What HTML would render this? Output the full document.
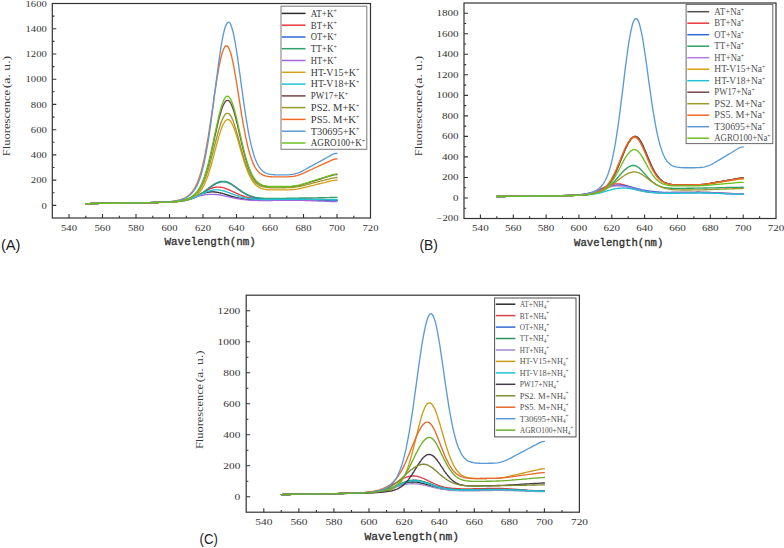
<!DOCTYPE html>
<html><head><meta charset="utf-8"><title>Fluorescence spectra</title>
<style>
html,body{margin:0;padding:0;background:#fff;}
body{width:784px;height:548px;overflow:hidden;font-family:"Liberation Serif",serif;}
svg{display:block;}
.sf{font-family:"Liberation Serif",serif;}
.mo{font-family:"Liberation Mono",monospace;}
.ss{font-family:"Liberation Sans",sans-serif;}
</style></head><body>
<svg width="784" height="548" viewBox="0 0 784 548">
<rect width="784" height="548" fill="#fff"/>
<g fill="none" stroke-width="1.35" stroke-linejoin="round" stroke-linecap="round">
<polyline stroke="#2b2b2b" points="85.8,203.6 89.1,203.6 92.5,203.5 95.8,203.5 99.2,203.4 102.5,203.4 105.9,203.3 109.2,203.3 112.6,203.2 115.9,203.2 119.3,203.1 122.6,203.1 126,203 129.3,203 132.7,202.9 136,202.9 139.4,202.8 142.7,202.7 146.1,202.7 149.4,202.6 152.8,202.5 156.1,202.5 159.5,202.4 162.8,202.2 166.2,202.1 169.5,201.9 170.4,201.9 171.2,201.8 172,201.8 172.9,201.7 173.7,201.6 174.6,201.6 175.4,201.5 176.2,201.4 177.1,201.3 177.9,201.2 178.7,201.1 179.6,201 180.4,200.8 181.3,200.7 182.1,200.5 182.9,200.4 183.8,200.2 184.6,200 185.4,199.8 186.3,199.6 187.1,199.3 188,199.1 188.8,198.8 189.6,198.6 190.5,198.3 191.3,198 192.1,197.7 193,197.4 193.8,197 194.7,196.7 195.5,196.4 196.3,196 197.2,195.7 198,195.3 198.8,195 199.7,194.7 200.5,194.4 201.4,194 202.2,193.7 203,193.5 203.9,193.2 204.7,193 205.5,192.7 206.4,192.5 207.2,192.4 208.1,192.2 208.9,192.1 209.7,192 210.6,191.9 211.4,191.9 212.2,191.9 213.1,191.9 213.9,191.9 214.7,192 215.6,192.1 216.4,192.2 217.3,192.3 218.1,192.4 218.9,192.6 219.8,192.8 220.6,193 221.4,193.2 222.3,193.4 223.1,193.7 224,193.9 224.8,194.2 225.6,194.4 226.5,194.7 227.3,195 228.1,195.2 229,195.5 229.8,195.8 230.7,196 231.5,196.3 232.3,196.5 233.2,196.8 234,197 234.8,197.2 235.7,197.4 236.5,197.6 237.4,197.8 238.2,198 239,198.2 239.9,198.4 240.7,198.5 241.5,198.7 242.4,198.8 243.2,198.9 244.1,199.1 244.9,199.2 245.7,199.3 246.6,199.3 247.4,199.4 248.2,199.5 249.1,199.6 249.9,199.6 250.8,199.7 251.6,199.7 252.4,199.8 253.3,199.8 254.1,199.8 254.9,199.8 255.8,199.9 256.6,199.9 257.5,199.9 258.3,199.9 259.1,199.9 260,199.9 260.8,199.9 261.6,199.9 262.5,199.9 263.3,199.9 264.2,199.9 265,199.9 265.8,199.9 266.7,199.9 267.5,199.9 268.3,199.9 269.2,199.9 270,199.9 270.9,199.9 271.7,199.8 272.5,199.8 273.4,199.8 274.2,199.8 275,199.8 275.9,199.8 276.7,199.8 277.6,199.8 278.4,199.8 279.2,199.7 280.1,199.7 280.9,199.7 281.7,199.7 282.6,199.7 283.4,199.7 284.3,199.7 285.1,199.7 285.9,199.6 286.8,199.6 288.4,199.6 290.1,199.6 291.8,199.6 293.5,199.6 295.1,199.6 296.8,199.6 298.5,199.6 300.2,199.6 301.8,199.6 303.5,199.7 305.2,199.7 306.9,199.7 308.5,199.8 310.2,199.8 311.9,199.9 313.6,199.9 315.2,199.9 316.9,200 318.6,200 320.3,200 321.9,200.1 323.6,200.1 325.3,200.2 327,200.2 328.6,200.2 330.3,200.3 332,200.3 333.7,200.3 335.3,200.3 337,200.3"/>
<polyline stroke="#e8383d" points="85.8,203.6 89.1,203.6 92.5,203.5 95.8,203.5 99.2,203.4 102.5,203.4 105.9,203.3 109.2,203.3 112.6,203.2 115.9,203.2 119.3,203.1 122.6,203.1 126,203 129.3,203 132.7,202.9 136,202.9 139.4,202.8 142.7,202.7 146.1,202.7 149.4,202.6 152.8,202.6 156.1,202.5 159.5,202.4 162.8,202.3 166.2,202.2 169.5,202 170.4,202 171.2,201.9 172,201.9 172.9,201.8 173.7,201.8 174.6,201.7 175.4,201.6 176.2,201.6 177.1,201.5 177.9,201.4 178.7,201.3 179.6,201.2 180.4,201.1 181.3,201 182.1,200.9 182.9,200.7 183.8,200.6 184.6,200.4 185.4,200.2 186.3,200 187.1,199.8 188,199.6 188.8,199.4 189.6,199.1 190.5,198.8 191.3,198.5 192.1,198.2 193,197.9 193.8,197.5 194.7,197.1 195.5,196.7 196.3,196.3 197.2,195.9 198,195.4 198.8,195 199.7,194.5 200.5,194 201.4,193.5 202.2,193 203,192.5 203.9,192 204.7,191.5 205.5,191.1 206.4,190.6 207.2,190.1 208.1,189.7 208.9,189.3 209.7,188.9 210.6,188.6 211.4,188.3 212.2,188 213.1,187.7 213.9,187.5 214.7,187.4 215.6,187.2 216.4,187.2 217.3,187.1 218.1,187.1 218.9,187.1 219.8,187.2 220.6,187.2 221.4,187.4 222.3,187.5 223.1,187.7 224,187.9 224.8,188.2 225.6,188.5 226.5,188.8 227.3,189.1 228.1,189.5 229,189.8 229.8,190.2 230.7,190.6 231.5,191 232.3,191.4 233.2,191.8 234,192.2 234.8,192.5 235.7,192.9 236.5,193.3 237.4,193.7 238.2,194.1 239,194.4 239.9,194.8 240.7,195.1 241.5,195.4 242.4,195.7 243.2,196 244.1,196.3 244.9,196.6 245.7,196.8 246.6,197 247.4,197.3 248.2,197.5 249.1,197.6 249.9,197.8 250.8,198 251.6,198.1 252.4,198.2 253.3,198.4 254.1,198.5 254.9,198.6 255.8,198.7 256.6,198.7 257.5,198.8 258.3,198.9 259.1,198.9 260,199 260.8,199 261.6,199.1 262.5,199.1 263.3,199.1 264.2,199.1 265,199.1 265.8,199.2 266.7,199.2 267.5,199.2 268.3,199.2 269.2,199.2 270,199.2 270.9,199.2 271.7,199.2 272.5,199.2 273.4,199.2 274.2,199.2 275,199.2 275.9,199.1 276.7,199.1 277.6,199.1 278.4,199.1 279.2,199.1 280.1,199.1 280.9,199.1 281.7,199.1 282.6,199.1 283.4,199.1 284.3,199 285.1,199 285.9,199 286.8,199 288.4,199 290.1,199 291.8,198.9 293.5,198.9 295.1,198.9 296.8,198.9 298.5,199 300.2,199 301.8,199 303.5,199 305.2,199.1 306.9,199.1 308.5,199.2 310.2,199.2 311.9,199.2 313.6,199.3 315.2,199.3 316.9,199.3 318.6,199.4 320.3,199.4 321.9,199.5 323.6,199.5 325.3,199.5 327,199.6 328.6,199.6 330.3,199.6 332,199.7 333.7,199.7 335.3,199.7 337,199.7"/>
<polyline stroke="#2f6bd6" points="85.8,203.6 89.1,203.6 92.5,203.5 95.8,203.5 99.2,203.4 102.5,203.4 105.9,203.3 109.2,203.3 112.6,203.2 115.9,203.2 119.3,203.1 122.6,203.1 126,203 129.3,203 132.7,202.9 136,202.9 139.4,202.8 142.7,202.7 146.1,202.7 149.4,202.6 152.8,202.5 156.1,202.5 159.5,202.4 162.8,202.3 166.2,202.2 169.5,202 170.4,202 171.2,201.9 172,201.9 172.9,201.8 173.7,201.8 174.6,201.7 175.4,201.6 176.2,201.6 177.1,201.5 177.9,201.4 178.7,201.4 179.6,201.3 180.4,201.2 181.3,201.1 182.1,201 182.9,200.8 183.8,200.7 184.6,200.6 185.4,200.4 186.3,200.2 187.1,200.1 188,199.9 188.8,199.7 189.6,199.4 190.5,199.2 191.3,198.9 192.1,198.6 193,198.3 193.8,198 194.7,197.6 195.5,197.2 196.3,196.8 197.2,196.4 198,195.9 198.8,195.5 199.7,195 200.5,194.4 201.4,193.9 202.2,193.3 203,192.8 203.9,192.2 204.7,191.5 205.5,190.9 206.4,190.3 207.2,189.7 208.1,189 208.9,188.4 209.7,187.8 210.6,187.1 211.4,186.5 212.2,186 213.1,185.4 213.9,184.9 214.7,184.4 215.6,183.9 216.4,183.5 217.3,183.1 218.1,182.8 218.9,182.5 219.8,182.2 220.6,182 221.4,181.9 222.3,181.8 223.1,181.8 224,181.8 224.8,181.9 225.6,182 226.5,182.2 227.3,182.5 228.1,182.8 229,183.2 229.8,183.6 230.7,184 231.5,184.5 232.3,185 233.2,185.6 234,186.2 234.8,186.8 235.7,187.4 236.5,188 237.4,188.6 238.2,189.2 239,189.8 239.9,190.4 240.7,191 241.5,191.6 242.4,192.2 243.2,192.7 244.1,193.2 244.9,193.7 245.7,194.2 246.6,194.7 247.4,195.1 248.2,195.5 249.1,195.9 249.9,196.2 250.8,196.5 251.6,196.8 252.4,197.1 253.3,197.3 254.1,197.6 254.9,197.8 255.8,198 256.6,198.1 257.5,198.3 258.3,198.4 259.1,198.5 260,198.6 260.8,198.7 261.6,198.8 262.5,198.9 263.3,198.9 264.2,199 265,199 265.8,199.1 266.7,199.1 267.5,199.1 268.3,199.1 269.2,199.1 270,199.1 270.9,199.1 271.7,199.2 272.5,199.2 273.4,199.2 274.2,199.1 275,199.1 275.9,199.1 276.7,199.1 277.6,199.1 278.4,199.1 279.2,199.1 280.1,199.1 280.9,199.1 281.7,199.1 282.6,199.1 283.4,199.1 284.3,199 285.1,199 285.9,199 286.8,199 288.4,199 290.1,199 291.8,198.9 293.5,199 295.1,199 296.8,199 298.5,199 300.2,199.1 301.8,199.1 303.5,199.2 305.2,199.2 306.9,199.3 308.5,199.4 310.2,199.4 311.9,199.5 313.6,199.6 315.2,199.6 316.9,199.7 318.6,199.8 320.3,199.8 321.9,199.9 323.6,199.9 325.3,200 327,200.1 328.6,200.1 330.3,200.2 332,200.3 333.7,200.3 335.3,200.3 337,200.3"/>
<polyline stroke="#35a070" points="85.8,203.6 89.1,203.6 92.5,203.5 95.8,203.5 99.2,203.4 102.5,203.4 105.9,203.3 109.2,203.3 112.6,203.2 115.9,203.2 119.3,203.1 122.6,203.1 126,203 129.3,203 132.7,202.9 136,202.9 139.4,202.8 142.7,202.7 146.1,202.7 149.4,202.6 152.8,202.5 156.1,202.5 159.5,202.4 162.8,202.3 166.2,202.1 169.5,202 170.4,201.9 171.2,201.9 172,201.8 172.9,201.8 173.7,201.7 174.6,201.7 175.4,201.6 176.2,201.5 177.1,201.5 177.9,201.4 178.7,201.3 179.6,201.2 180.4,201.1 181.3,201 182.1,200.9 182.9,200.7 183.8,200.6 184.6,200.5 185.4,200.3 186.3,200.1 187.1,199.9 188,199.7 188.8,199.5 189.6,199.3 190.5,199 191.3,198.7 192.1,198.4 193,198.1 193.8,197.7 194.7,197.3 195.5,196.9 196.3,196.5 197.2,196.1 198,195.6 198.8,195.1 199.7,194.6 200.5,194 201.4,193.5 202.2,192.9 203,192.3 203.9,191.7 204.7,191.1 205.5,190.4 206.4,189.8 207.2,189.1 208.1,188.5 208.9,187.9 209.7,187.2 210.6,186.6 211.4,186 212.2,185.4 213.1,184.9 213.9,184.4 214.7,183.9 215.6,183.4 216.4,183 217.3,182.6 218.1,182.3 218.9,182 219.8,181.7 220.6,181.5 221.4,181.4 222.3,181.3 223.1,181.3 224,181.3 224.8,181.4 225.6,181.5 226.5,181.8 227.3,182 228.1,182.3 229,182.7 229.8,183.1 230.7,183.6 231.5,184.1 232.3,184.6 233.2,185.2 234,185.7 234.8,186.3 235.7,187 236.5,187.6 237.4,188.2 238.2,188.8 239,189.4 239.9,190 240.7,190.6 241.5,191.2 242.4,191.7 243.2,192.3 244.1,192.8 244.9,193.3 245.7,193.7 246.6,194.2 247.4,194.6 248.2,195 249.1,195.3 249.9,195.6 250.8,196 251.6,196.2 252.4,196.5 253.3,196.7 254.1,196.9 254.9,197.1 255.8,197.3 256.6,197.5 257.5,197.6 258.3,197.7 259.1,197.8 260,197.9 260.8,198 261.6,198.1 262.5,198.2 263.3,198.2 264.2,198.3 265,198.3 265.8,198.3 266.7,198.3 267.5,198.4 268.3,198.4 269.2,198.4 270,198.4 270.9,198.4 271.7,198.4 272.5,198.4 273.4,198.4 274.2,198.4 275,198.4 275.9,198.4 276.7,198.4 277.6,198.4 278.4,198.4 279.2,198.3 280.1,198.3 280.9,198.3 281.7,198.3 282.6,198.3 283.4,198.3 284.3,198.3 285.1,198.3 285.9,198.3 286.8,198.2 288.4,198.2 290.1,198.2 291.8,198.2 293.5,198.1 295.1,198.1 296.8,198.1 298.5,198.1 300.2,198 301.8,198 303.5,198 305.2,198 306.9,197.9 308.5,197.9 310.2,197.9 311.9,197.8 313.6,197.8 315.2,197.8 316.9,197.8 318.6,197.7 320.3,197.7 321.9,197.7 323.6,197.7 325.3,197.6 327,197.6 328.6,197.6 330.3,197.5 332,197.5 333.7,197.5 335.3,197.5 337,197.4"/>
<polyline stroke="#a466e0" points="85.8,203.6 89.1,203.6 92.5,203.5 95.8,203.5 99.2,203.4 102.5,203.4 105.9,203.3 109.2,203.3 112.6,203.2 115.9,203.2 119.3,203.1 122.6,203.1 126,203 129.3,203 132.7,202.9 136,202.8 139.4,202.8 142.7,202.7 146.1,202.6 149.4,202.6 152.8,202.5 156.1,202.4 159.5,202.3 162.8,202.2 166.2,202 169.5,201.8 170.4,201.7 171.2,201.7 172,201.6 172.9,201.5 173.7,201.5 174.6,201.4 175.4,201.3 176.2,201.2 177.1,201.1 177.9,201 178.7,200.9 179.6,200.7 180.4,200.6 181.3,200.5 182.1,200.3 182.9,200.2 183.8,200 184.6,199.8 185.4,199.7 186.3,199.5 187.1,199.3 188,199.1 188.8,198.9 189.6,198.6 190.5,198.4 191.3,198.2 192.1,198 193,197.7 193.8,197.5 194.7,197.2 195.5,197 196.3,196.8 197.2,196.5 198,196.3 198.8,196.1 199.7,195.9 200.5,195.7 201.4,195.5 202.2,195.3 203,195.1 203.9,195 204.7,194.8 205.5,194.7 206.4,194.6 207.2,194.5 208.1,194.4 208.9,194.3 209.7,194.3 210.6,194.3 211.4,194.3 212.2,194.3 213.1,194.3 213.9,194.3 214.7,194.4 215.6,194.5 216.4,194.5 217.3,194.6 218.1,194.7 218.9,194.9 219.8,195 220.6,195.1 221.4,195.3 222.3,195.4 223.1,195.6 224,195.8 224.8,196 225.6,196.1 226.5,196.3 227.3,196.5 228.1,196.7 229,196.9 229.8,197.1 230.7,197.3 231.5,197.4 232.3,197.6 233.2,197.8 234,198 234.8,198.1 235.7,198.3 236.5,198.5 237.4,198.6 238.2,198.8 239,198.9 239.9,199 240.7,199.2 241.5,199.3 242.4,199.4 243.2,199.5 244.1,199.6 244.9,199.7 245.7,199.8 246.6,199.9 247.4,199.9 248.2,200 249.1,200.1 249.9,200.1 250.8,200.2 251.6,200.2 252.4,200.3 253.3,200.3 254.1,200.4 254.9,200.4 255.8,200.4 256.6,200.4 257.5,200.4 258.3,200.5 259.1,200.5 260,200.5 260.8,200.5 261.6,200.5 262.5,200.5 263.3,200.5 264.2,200.5 265,200.5 265.8,200.5 266.7,200.5 267.5,200.5 268.3,200.5 269.2,200.5 270,200.5 270.9,200.5 271.7,200.5 272.5,200.5 273.4,200.4 274.2,200.4 275,200.4 275.9,200.4 276.7,200.4 277.6,200.4 278.4,200.4 279.2,200.4 280.1,200.4 280.9,200.3 281.7,200.3 282.6,200.3 283.4,200.3 284.3,200.3 285.1,200.3 285.9,200.3 286.8,200.3 288.4,200.2 290.1,200.2 291.8,200.2 293.5,200.2 295.1,200.2 296.8,200.2 298.5,200.3 300.2,200.3 301.8,200.4 303.5,200.4 305.2,200.5 306.9,200.6 308.5,200.6 310.2,200.7 311.9,200.8 313.6,200.8 315.2,200.9 316.9,200.9 318.6,201 320.3,201.1 321.9,201.1 323.6,201.2 325.3,201.3 327,201.3 328.6,201.4 330.3,201.5 332,201.5 333.7,201.6 335.3,201.6 337,201.6"/>
<polyline stroke="#d4a017" points="85.8,203.6 89.1,203.6 92.5,203.5 95.8,203.5 99.2,203.4 102.5,203.4 105.9,203.3 109.2,203.3 112.6,203.2 115.9,203.2 119.3,203.1 122.6,203.1 126,203 129.3,203 132.7,202.9 136,202.9 139.4,202.8 142.7,202.8 146.1,202.7 149.4,202.7 152.8,202.6 156.1,202.5 159.5,202.5 162.8,202.4 166.2,202.3 169.5,202.2 170.4,202.1 171.2,202.1 172,202 172.9,202 173.7,201.9 174.6,201.9 175.4,201.8 176.2,201.7 177.1,201.7 177.9,201.6 178.7,201.5 179.6,201.4 180.4,201.3 181.3,201.2 182.1,201.1 182.9,200.9 183.8,200.8 184.6,200.6 185.4,200.5 186.3,200.3 187.1,200.1 188,199.9 188.8,199.6 189.6,199.3 190.5,199 191.3,198.7 192.1,198.3 193,197.9 193.8,197.4 194.7,196.9 195.5,196.3 196.3,195.7 197.2,195 198,194.2 198.8,193.3 199.7,192.3 200.5,191.2 201.4,189.9 202.2,188.6 203,187.1 203.9,185.5 204.7,183.7 205.5,181.8 206.4,179.8 207.2,177.6 208.1,175.2 208.9,172.7 209.7,170 210.6,167.2 211.4,164.3 212.2,161.3 213.1,158.2 213.9,155.1 214.7,151.9 215.6,148.7 216.4,145.5 217.3,142.4 218.1,139.4 218.9,136.4 219.8,133.7 220.6,131.1 221.4,128.7 222.3,126.5 223.1,124.6 224,123 224.8,121.7 225.6,120.7 226.5,120 227.3,119.6 228.1,119.6 229,119.9 229.8,120.5 230.7,121.5 231.5,122.7 232.3,124.3 233.2,126.1 234,128.2 234.8,130.5 235.7,132.9 236.5,135.6 237.4,138.3 238.2,141.2 239,144.1 239.9,147 240.7,150 241.5,152.9 242.4,155.7 243.2,158.5 244.1,161.2 244.9,163.8 245.7,166.2 246.6,168.5 247.4,170.7 248.2,172.8 249.1,174.7 249.9,176.4 250.8,178 251.6,179.5 252.4,180.8 253.3,182 254.1,183.1 254.9,184 255.8,184.9 256.6,185.6 257.5,186.3 258.3,186.9 259.1,187.4 260,187.8 260.8,188.2 261.6,188.5 262.5,188.8 263.3,189 264.2,189.2 265,189.3 265.8,189.5 266.7,189.6 267.5,189.7 268.3,189.7 269.2,189.8 270,189.8 270.9,189.9 271.7,189.9 272.5,189.9 273.4,189.9 274.2,189.9 275,189.9 275.9,189.9 276.7,189.9 277.6,189.9 278.4,189.9 279.2,189.9 280.1,189.9 280.9,189.9 281.7,189.9 282.6,189.9 283.4,189.8 284.3,189.8 285.1,189.8 285.9,189.8 286.8,189.8 288.4,189.8 290.1,189.7 291.8,189.6 293.5,189.5 295.1,189.3 296.8,189.1 298.5,188.8 300.2,188.5 301.8,188.1 303.5,187.7 305.2,187.3 306.9,186.9 308.5,186.5 310.2,186.1 311.9,185.7 313.6,185.3 315.2,184.8 316.9,184.4 318.6,184 320.3,183.6 321.9,183.2 323.6,182.8 325.3,182.4 327,181.9 328.6,181.5 330.3,181.1 332,180.7 333.7,180.3 335.3,180.1 337,180"/>
<polyline stroke="#1ec3d3" points="85.8,203.6 89.1,203.6 92.5,203.5 95.8,203.5 99.2,203.4 102.5,203.4 105.9,203.3 109.2,203.3 112.6,203.2 115.9,203.2 119.3,203.1 122.6,203.1 126,203 129.3,203 132.7,202.9 136,202.9 139.4,202.8 142.7,202.7 146.1,202.7 149.4,202.6 152.8,202.6 156.1,202.5 159.5,202.4 162.8,202.3 166.2,202.2 169.5,202 170.4,202 171.2,201.9 172,201.9 172.9,201.8 173.7,201.8 174.6,201.7 175.4,201.6 176.2,201.6 177.1,201.5 177.9,201.4 178.7,201.3 179.6,201.2 180.4,201.1 181.3,201 182.1,200.9 182.9,200.7 183.8,200.6 184.6,200.4 185.4,200.3 186.3,200.1 187.1,199.9 188,199.7 188.8,199.4 189.6,199.2 190.5,198.9 191.3,198.6 192.1,198.3 193,198 193.8,197.7 194.7,197.4 195.5,197 196.3,196.6 197.2,196.3 198,195.9 198.8,195.5 199.7,195.1 200.5,194.7 201.4,194.3 202.2,193.9 203,193.5 203.9,193.1 204.7,192.7 205.5,192.3 206.4,192 207.2,191.7 208.1,191.4 208.9,191.1 209.7,190.8 210.6,190.6 211.4,190.4 212.2,190.2 213.1,190.1 213.9,190 214.7,189.9 215.6,189.9 216.4,189.9 217.3,189.9 218.1,189.9 218.9,190 219.8,190.1 220.6,190.2 221.4,190.4 222.3,190.6 223.1,190.8 224,191 224.8,191.2 225.6,191.5 226.5,191.8 227.3,192.1 228.1,192.4 229,192.7 229.8,193 230.7,193.3 231.5,193.6 232.3,193.9 233.2,194.3 234,194.6 234.8,194.9 235.7,195.2 236.5,195.5 237.4,195.8 238.2,196 239,196.3 239.9,196.6 240.7,196.8 241.5,197 242.4,197.3 243.2,197.5 244.1,197.7 244.9,197.8 245.7,198 246.6,198.2 247.4,198.3 248.2,198.4 249.1,198.6 249.9,198.7 250.8,198.8 251.6,198.9 252.4,199 253.3,199 254.1,199.1 254.9,199.2 255.8,199.2 256.6,199.3 257.5,199.3 258.3,199.3 259.1,199.4 260,199.4 260.8,199.4 261.6,199.4 262.5,199.4 263.3,199.5 264.2,199.5 265,199.5 265.8,199.5 266.7,199.5 267.5,199.5 268.3,199.5 269.2,199.5 270,199.5 270.9,199.5 271.7,199.5 272.5,199.4 273.4,199.4 274.2,199.4 275,199.4 275.9,199.4 276.7,199.4 277.6,199.4 278.4,199.4 279.2,199.4 280.1,199.3 280.9,199.3 281.7,199.3 282.6,199.3 283.4,199.3 284.3,199.3 285.1,199.3 285.9,199.3 286.8,199.3 288.4,199.2 290.1,199.2 291.8,199.2 293.5,199.2 295.1,199.2 296.8,199.2 298.5,199.2 300.2,199.2 301.8,199.2 303.5,199.2 305.2,199.3 306.9,199.3 308.5,199.3 310.2,199.4 311.9,199.4 313.6,199.4 315.2,199.4 316.9,199.5 318.6,199.5 320.3,199.5 321.9,199.5 323.6,199.6 325.3,199.6 327,199.6 328.6,199.6 330.3,199.7 332,199.7 333.7,199.7 335.3,199.7 337,199.7"/>
<polyline stroke="#784444" points="85.8,203.6 89.1,203.6 92.5,203.5 95.8,203.5 99.2,203.4 102.5,203.4 105.9,203.3 109.2,203.3 112.6,203.2 115.9,203.2 119.3,203.1 122.6,203.1 126,203 129.3,203 132.7,202.9 136,202.9 139.4,202.8 142.7,202.8 146.1,202.7 149.4,202.6 152.8,202.6 156.1,202.5 159.5,202.4 162.8,202.3 166.2,202.2 169.5,202 170.4,202 171.2,201.9 172,201.9 172.9,201.8 173.7,201.7 174.6,201.6 175.4,201.5 176.2,201.5 177.1,201.4 177.9,201.2 178.7,201.1 179.6,201 180.4,200.9 181.3,200.7 182.1,200.5 182.9,200.3 183.8,200.1 184.6,199.9 185.4,199.7 186.3,199.4 187.1,199.1 188,198.8 188.8,198.5 189.6,198.1 190.5,197.6 191.3,197.2 192.1,196.6 193,196 193.8,195.4 194.7,194.7 195.5,193.8 196.3,192.9 197.2,191.9 198,190.8 198.8,189.6 199.7,188.2 200.5,186.7 201.4,185 202.2,183.2 203,181.3 203.9,179.1 204.7,176.8 205.5,174.3 206.4,171.6 207.2,168.8 208.1,165.8 208.9,162.6 209.7,159.2 210.6,155.8 211.4,152.2 212.2,148.5 213.1,144.7 213.9,140.9 214.7,137.1 215.6,133.3 216.4,129.5 217.3,125.9 218.1,122.3 218.9,118.9 219.8,115.7 220.6,112.8 221.4,110.1 222.3,107.6 223.1,105.5 224,103.7 224.8,102.3 225.6,101.2 226.5,100.6 227.3,100.3 228.1,100.4 229,100.9 229.8,101.8 230.7,103.2 231.5,104.8 232.3,106.9 233.2,109.3 234,111.9 234.8,114.8 235.7,118 236.5,121.3 237.4,124.7 238.2,128.3 239,131.9 239.9,135.5 240.7,139.1 241.5,142.7 242.4,146.1 243.2,149.5 244.1,152.8 244.9,155.9 245.7,158.8 246.6,161.6 247.4,164.3 248.2,166.7 249.1,169 249.9,171 250.8,172.9 251.6,174.7 252.4,176.2 253.3,177.7 254.1,178.9 254.9,180.1 255.8,181 256.6,181.9 257.5,182.7 258.3,183.4 259.1,184 260,184.5 260.8,184.9 261.6,185.2 262.5,185.6 263.3,185.8 264.2,186 265,186.2 265.8,186.4 266.7,186.5 267.5,186.6 268.3,186.7 269.2,186.7 270,186.8 270.9,186.8 271.7,186.8 272.5,186.9 273.4,186.9 274.2,186.9 275,186.9 275.9,186.9 276.7,186.9 277.6,186.9 278.4,186.9 279.2,186.9 280.1,186.9 280.9,186.8 281.7,186.8 282.6,186.8 283.4,186.8 284.3,186.8 285.1,186.8 285.9,186.8 286.8,186.8 288.4,186.7 290.1,186.7 291.8,186.6 293.5,186.4 295.1,186.2 296.8,185.9 298.5,185.6 300.2,185.2 301.8,184.7 303.5,184.2 305.2,183.7 306.9,183.2 308.5,182.6 310.2,182.1 311.9,181.6 313.6,181.1 315.2,180.5 316.9,180 318.6,179.5 320.3,179 321.9,178.5 323.6,177.9 325.3,177.4 327,176.9 328.6,176.4 330.3,175.8 332,175.3 333.7,174.9 335.3,174.6 337,174.5"/>
<polyline stroke="#9a9a2a" points="85.8,203.6 89.1,203.6 92.5,203.5 95.8,203.5 99.2,203.4 102.5,203.4 105.9,203.3 109.2,203.3 112.6,203.2 115.9,203.2 119.3,203.1 122.6,203.1 126,203 129.3,203 132.7,202.9 136,202.9 139.4,202.8 142.7,202.8 146.1,202.7 149.4,202.6 152.8,202.6 156.1,202.5 159.5,202.4 162.8,202.3 166.2,202.2 169.5,202.1 170.4,202 171.2,202 172,201.9 172.9,201.8 173.7,201.8 174.6,201.7 175.4,201.6 176.2,201.5 177.1,201.5 177.9,201.4 178.7,201.3 179.6,201.1 180.4,201 181.3,200.9 182.1,200.7 182.9,200.6 183.8,200.4 184.6,200.2 185.4,200 186.3,199.7 187.1,199.5 188,199.2 188.8,198.9 189.6,198.5 190.5,198.2 191.3,197.7 192.1,197.3 193,196.7 193.8,196.2 194.7,195.5 195.5,194.8 196.3,194 197.2,193.1 198,192.1 198.8,191 199.7,189.8 200.5,188.5 201.4,187 202.2,185.5 203,183.7 203.9,181.8 204.7,179.8 205.5,177.6 206.4,175.3 207.2,172.8 208.1,170.1 208.9,167.3 209.7,164.4 210.6,161.4 211.4,158.2 212.2,155 213.1,151.7 213.9,148.4 214.7,145.1 215.6,141.8 216.4,138.6 217.3,135.4 218.1,132.3 218.9,129.4 219.8,126.6 220.6,124 221.4,121.7 222.3,119.6 223.1,117.8 224,116.2 224.8,115 225.6,114.1 226.5,113.5 227.3,113.3 228.1,113.4 229,113.8 229.8,114.7 230.7,115.8 231.5,117.3 232.3,119 233.2,121.1 234,123.4 234.8,126 235.7,128.7 236.5,131.6 237.4,134.5 238.2,137.6 239,140.7 239.9,143.9 240.7,147 241.5,150 242.4,153 243.2,155.9 244.1,158.7 244.9,161.4 245.7,163.9 246.6,166.3 247.4,168.6 248.2,170.7 249.1,172.6 249.9,174.4 250.8,176 251.6,177.5 252.4,178.8 253.3,180 254.1,181.1 254.9,182 255.8,182.9 256.6,183.6 257.5,184.3 258.3,184.8 259.1,185.3 260,185.8 260.8,186.1 261.6,186.4 262.5,186.7 263.3,186.9 264.2,187.1 265,187.2 265.8,187.4 266.7,187.5 267.5,187.5 268.3,187.6 269.2,187.7 270,187.7 270.9,187.7 271.7,187.7 272.5,187.8 273.4,187.8 274.2,187.8 275,187.8 275.9,187.8 276.7,187.8 277.6,187.8 278.4,187.8 279.2,187.7 280.1,187.7 280.9,187.7 281.7,187.7 282.6,187.7 283.4,187.7 284.3,187.7 285.1,187.7 285.9,187.7 286.8,187.6 288.4,187.6 290.1,187.6 291.8,187.5 293.5,187.3 295.1,187.1 296.8,186.9 298.5,186.6 300.2,186.3 301.8,185.9 303.5,185.5 305.2,185.1 306.9,184.7 308.5,184.2 310.2,183.8 311.9,183.4 313.6,182.9 315.2,182.5 316.9,182.1 318.6,181.6 320.3,181.2 321.9,180.8 323.6,180.4 325.3,179.9 327,179.5 328.6,179.1 330.3,178.6 332,178.2 333.7,177.8 335.3,177.6 337,177.5"/>
<polyline stroke="#f26a26" points="85.8,203.6 89.1,203.6 92.5,203.5 95.8,203.5 99.2,203.4 102.5,203.4 105.9,203.3 109.2,203.3 112.6,203.2 115.9,203.2 119.3,203.1 122.6,203.1 126,203 129.3,203 132.7,202.9 136,202.9 139.4,202.8 142.7,202.8 146.1,202.7 149.4,202.6 152.8,202.6 156.1,202.5 159.5,202.4 162.8,202.2 166.2,202 169.5,201.7 170.4,201.6 171.2,201.5 172,201.4 172.9,201.3 173.7,201.1 174.6,201 175.4,200.9 176.2,200.7 177.1,200.5 177.9,200.3 178.7,200.1 179.6,199.9 180.4,199.6 181.3,199.3 182.1,199 182.9,198.7 183.8,198.4 184.6,198 185.4,197.5 186.3,197 187.1,196.5 188,195.9 188.8,195.3 189.6,194.5 190.5,193.7 191.3,192.8 192.1,191.8 193,190.7 193.8,189.5 194.7,188.1 195.5,186.6 196.3,184.9 197.2,183.1 198,181 198.8,178.8 199.7,176.3 200.5,173.6 201.4,170.6 202.2,167.4 203,164 203.9,160.2 204.7,156.3 205.5,152 206.4,147.5 207.2,142.7 208.1,137.8 208.9,132.6 209.7,127.2 210.6,121.7 211.4,116 212.2,110.3 213.1,104.6 213.9,98.8 214.7,93.1 215.6,87.6 216.4,82.1 217.3,76.9 218.1,72 218.9,67.4 219.8,63.1 220.6,59.2 221.4,55.7 222.3,52.7 223.1,50.2 224,48.3 224.8,46.9 225.6,46 226.5,45.8 227.3,46.1 228.1,46.9 229,48.4 229.8,50.4 230.7,53 231.5,56.1 232.3,59.6 233.2,63.6 234,67.9 234.8,72.5 235.7,77.4 236.5,82.5 237.4,87.7 238.2,93.1 239,98.4 239.9,103.7 240.7,109 241.5,114.1 242.4,119.1 243.2,123.9 244.1,128.6 244.9,133 245.7,137.2 246.6,141.1 247.4,144.8 248.2,148.2 249.1,151.4 249.9,154.3 250.8,157 251.6,159.4 252.4,161.6 253.3,163.6 254.1,165.4 254.9,167 255.8,168.4 256.6,169.6 257.5,170.7 258.3,171.7 259.1,172.5 260,173.2 260.8,173.8 261.6,174.4 262.5,174.8 263.3,175.2 264.2,175.5 265,175.8 265.8,176 266.7,176.2 267.5,176.4 268.3,176.5 269.2,176.6 270,176.7 270.9,176.7 271.7,176.8 272.5,176.8 273.4,176.9 274.2,176.9 275,176.9 275.9,176.9 276.7,176.9 277.6,176.9 278.4,176.9 279.2,176.9 280.1,176.9 280.9,176.9 281.7,176.9 282.6,176.9 283.4,176.8 284.3,176.8 285.1,176.8 285.9,176.8 286.8,176.8 288.4,176.8 290.1,176.7 291.8,176.6 293.5,176.3 295.1,176 296.8,175.6 298.5,175.1 300.2,174.5 301.8,173.8 303.5,173.1 305.2,172.3 306.9,171.6 308.5,170.8 310.2,170 311.9,169.3 313.6,168.5 315.2,167.7 316.9,167 318.6,166.2 320.3,165.4 321.9,164.7 323.6,163.9 325.3,163.1 327,162.4 328.6,161.6 330.3,160.8 332,160 333.7,159.4 335.3,159 337,158.8"/>
<polyline stroke="#5b9bd5" points="85.8,203.6 89.1,203.6 92.5,203.5 95.8,203.5 99.2,203.4 102.5,203.4 105.9,203.3 109.2,203.3 112.6,203.2 115.9,203.2 119.3,203.1 122.6,203.1 126,203 129.3,203 132.7,202.9 136,202.9 139.4,202.8 142.7,202.8 146.1,202.7 149.4,202.6 152.8,202.6 156.1,202.5 159.5,202.4 162.8,202.2 166.2,202 169.5,201.8 170.4,201.7 171.2,201.6 172,201.5 172.9,201.4 173.7,201.3 174.6,201.2 175.4,201 176.2,200.9 177.1,200.7 177.9,200.5 178.7,200.3 179.6,200.1 180.4,199.9 181.3,199.6 182.1,199.4 182.9,199.1 183.8,198.7 184.6,198.4 185.4,198 186.3,197.5 187.1,197 188,196.5 188.8,195.9 189.6,195.3 190.5,194.6 191.3,193.8 192.1,192.9 193,191.9 193.8,190.9 194.7,189.7 195.5,188.3 196.3,186.8 197.2,185.2 198,183.3 198.8,181.3 199.7,179.1 200.5,176.6 201.4,173.9 202.2,170.9 203,167.7 203.9,164.1 204.7,160.3 205.5,156.1 206.4,151.7 207.2,147 208.1,141.9 208.9,136.6 209.7,131 210.6,125.1 211.4,119 212.2,112.7 213.1,106.3 213.9,99.7 214.7,93.1 215.6,86.4 216.4,79.8 217.3,73.3 218.1,67 218.9,60.8 219.8,55 220.6,49.5 221.4,44.3 222.3,39.6 223.1,35.4 224,31.6 224.8,28.5 225.6,26 226.5,24.1 227.3,22.8 228.1,22.2 229,22.3 229.8,23 230.7,24.4 231.5,26.5 232.3,29.2 233.2,32.5 234,36.3 234.8,40.7 235.7,45.5 236.5,50.7 237.4,56.3 238.2,62.1 239,68.1 239.9,74.2 240.7,80.4 241.5,86.6 242.4,92.7 243.2,98.8 244.1,104.7 244.9,110.4 245.7,115.9 246.6,121.1 247.4,126.1 248.2,130.8 249.1,135.3 249.9,139.4 250.8,143.3 251.6,146.8 252.4,150 253.3,153 254.1,155.7 254.9,158.2 255.8,160.3 256.6,162.3 257.5,164.1 258.3,165.6 259.1,167 260,168.2 260.8,169.2 261.6,170.1 262.5,170.9 263.3,171.6 264.2,172.1 265,172.6 265.8,173 266.7,173.4 267.5,173.7 268.3,173.9 269.2,174.1 270,174.3 270.9,174.4 271.7,174.5 272.5,174.6 273.4,174.7 274.2,174.7 275,174.8 275.9,174.8 276.7,174.8 277.6,174.8 278.4,174.8 279.2,174.9 280.1,174.9 280.9,174.9 281.7,174.8 282.6,174.8 283.4,174.8 284.3,174.8 285.1,174.8 285.9,174.8 286.8,174.8 288.4,174.8 290.1,174.7 291.8,174.5 293.5,174.2 295.1,173.8 296.8,173.4 298.5,172.8 300.2,172.1 301.8,171.3 303.5,170.4 305.2,169.5 306.9,168.5 308.5,167.6 310.2,166.7 311.9,165.8 313.6,164.9 315.2,163.9 316.9,163 318.6,162.1 320.3,161.2 321.9,160.3 323.6,159.3 325.3,158.4 327,157.5 328.6,156.6 330.3,155.7 332,154.7 333.7,153.9 335.3,153.5 337,153.3"/>
<polyline stroke="#6cc024" points="85.8,203.6 89.1,203.6 92.5,203.5 95.8,203.5 99.2,203.4 102.5,203.4 105.9,203.3 109.2,203.3 112.6,203.2 115.9,203.2 119.3,203.1 122.6,203.1 126,203 129.3,203 132.7,202.9 136,202.9 139.4,202.8 142.7,202.8 146.1,202.7 149.4,202.6 152.8,202.6 156.1,202.5 159.5,202.4 162.8,202.3 166.2,202.2 169.5,202 170.4,202 171.2,201.9 172,201.8 172.9,201.8 173.7,201.7 174.6,201.6 175.4,201.5 176.2,201.4 177.1,201.3 177.9,201.2 178.7,201.1 179.6,200.9 180.4,200.8 181.3,200.6 182.1,200.5 182.9,200.3 183.8,200.1 184.6,199.8 185.4,199.6 186.3,199.3 187.1,199 188,198.7 188.8,198.3 189.6,197.9 190.5,197.5 191.3,197 192.1,196.4 193,195.8 193.8,195.1 194.7,194.4 195.5,193.5 196.3,192.6 197.2,191.6 198,190.4 198.8,189.1 199.7,187.7 200.5,186.1 201.4,184.4 202.2,182.6 203,180.5 203.9,178.3 204.7,175.9 205.5,173.3 206.4,170.5 207.2,167.6 208.1,164.4 208.9,161.1 209.7,157.6 210.6,154 211.4,150.3 212.2,146.5 213.1,142.6 213.9,138.6 214.7,134.6 215.6,130.7 216.4,126.8 217.3,122.9 218.1,119.3 218.9,115.7 219.8,112.4 220.6,109.3 221.4,106.5 222.3,103.9 223.1,101.7 224,99.9 224.8,98.4 225.6,97.2 226.5,96.5 227.3,96.2 228.1,96.4 229,96.9 229.8,97.9 230.7,99.2 231.5,101 232.3,103.1 233.2,105.5 234,108.3 234.8,111.3 235.7,114.6 236.5,118 237.4,121.6 238.2,125.3 239,129.1 239.9,132.9 240.7,136.6 241.5,140.3 242.4,143.9 243.2,147.5 244.1,150.8 244.9,154.1 245.7,157.2 246.6,160.1 247.4,162.8 248.2,165.4 249.1,167.7 249.9,169.9 250.8,171.9 251.6,173.7 252.4,175.4 253.3,176.8 254.1,178.2 254.9,179.3 255.8,180.4 256.6,181.3 257.5,182.1 258.3,182.8 259.1,183.4 260,183.9 260.8,184.4 261.6,184.8 262.5,185.1 263.3,185.4 264.2,185.6 265,185.8 265.8,186 266.7,186.1 267.5,186.2 268.3,186.3 269.2,186.3 270,186.4 270.9,186.4 271.7,186.5 272.5,186.5 273.4,186.5 274.2,186.5 275,186.5 275.9,186.5 276.7,186.5 277.6,186.5 278.4,186.5 279.2,186.5 280.1,186.5 280.9,186.5 281.7,186.5 282.6,186.4 283.4,186.4 284.3,186.4 285.1,186.4 285.9,186.4 286.8,186.4 288.4,186.4 290.1,186.3 291.8,186.2 293.5,186 295.1,185.8 296.8,185.5 298.5,185.2 300.2,184.8 301.8,184.3 303.5,183.8 305.2,183.3 306.9,182.8 308.5,182.3 310.2,181.7 311.9,181.2 313.6,180.7 315.2,180.2 316.9,179.6 318.6,179.1 320.3,178.6 321.9,178.1 323.6,177.6 325.3,177 327,176.5 328.6,176 330.3,175.5 332,174.9 333.7,174.5 335.3,174.2 337,174.1"/>
</g>
<rect x="52.3" y="3.5" width="318.2" height="214.5" fill="none" stroke="#333" stroke-width="1.2"/>
<path d="M69 218v-4M85.8 218v-2.2M102.5 218v-4M119.3 218v-2.2M136 218v-4M152.8 218v-2.2M169.5 218v-4M186.3 218v-2.2M203 218v-4M219.8 218v-2.2M236.5 218v-4M253.3 218v-2.2M270 218v-4M286.8 218v-2.2M303.5 218v-4M320.3 218v-2.2M337 218v-4M353.8 218v-2.2M52.3 205.4h4M52.3 192.8h2.2M52.3 180.1h4M52.3 167.5h2.2M52.3 154.9h4M52.3 142.3h2.2M52.3 129.7h4M52.3 117.1h2.2M52.3 104.4h4M52.3 91.8h2.2M52.3 79.2h4M52.3 66.6h2.2M52.3 54h4M52.3 41.4h2.2M52.3 28.7h4M52.3 16.1h2.2" stroke="#333" stroke-width="1.1" fill="none"/>
<g class="sf" font-size="8.9" fill="#333">
<text x="69" y="230.8" text-anchor="middle" textLength="16" lengthAdjust="spacingAndGlyphs">540</text>
<text x="102.5" y="230.8" text-anchor="middle" textLength="16" lengthAdjust="spacingAndGlyphs">560</text>
<text x="136" y="230.8" text-anchor="middle" textLength="16" lengthAdjust="spacingAndGlyphs">580</text>
<text x="169.5" y="230.8" text-anchor="middle" textLength="16" lengthAdjust="spacingAndGlyphs">600</text>
<text x="203" y="230.8" text-anchor="middle" textLength="16" lengthAdjust="spacingAndGlyphs">620</text>
<text x="236.5" y="230.8" text-anchor="middle" textLength="16" lengthAdjust="spacingAndGlyphs">640</text>
<text x="270" y="230.8" text-anchor="middle" textLength="16" lengthAdjust="spacingAndGlyphs">660</text>
<text x="303.5" y="230.8" text-anchor="middle" textLength="16" lengthAdjust="spacingAndGlyphs">680</text>
<text x="337" y="230.8" text-anchor="middle" textLength="16" lengthAdjust="spacingAndGlyphs">700</text>
<text x="370.5" y="230.8" text-anchor="middle" textLength="16" lengthAdjust="spacingAndGlyphs">720</text>
<text x="46.8" y="208.5" text-anchor="end" textLength="5.3" lengthAdjust="spacingAndGlyphs">0</text>
<text x="46.8" y="183.2" text-anchor="end" textLength="16" lengthAdjust="spacingAndGlyphs">200</text>
<text x="46.8" y="158" text-anchor="end" textLength="16" lengthAdjust="spacingAndGlyphs">400</text>
<text x="46.8" y="132.8" text-anchor="end" textLength="16" lengthAdjust="spacingAndGlyphs">600</text>
<text x="46.8" y="107.5" text-anchor="end" textLength="16" lengthAdjust="spacingAndGlyphs">800</text>
<text x="46.8" y="82.3" text-anchor="end" textLength="21.3" lengthAdjust="spacingAndGlyphs">1000</text>
<text x="46.8" y="57.1" text-anchor="end" textLength="21.3" lengthAdjust="spacingAndGlyphs">1200</text>
<text x="46.8" y="31.8" text-anchor="end" textLength="21.3" lengthAdjust="spacingAndGlyphs">1400</text>
<text x="46.8" y="6.6" text-anchor="end" textLength="21.3" lengthAdjust="spacingAndGlyphs">1600</text>
</g>
<text x="210.2" y="245" text-anchor="middle" class="mo" font-size="11" fill="#333" stroke="#333" stroke-width="0.35" textLength="91.2" lengthAdjust="spacingAndGlyphs">Wavelength(nm)</text>
<g transform="translate(10 156.2) rotate(-90)" class="sf" font-size="10.5" fill="#3a3a3a">
<text x="0" y="0" textLength="66.3" lengthAdjust="spacingAndGlyphs">Fluorescence</text>
<text x="67.9" y="0" textLength="32.5" lengthAdjust="spacingAndGlyphs">(a. u.)</text>
</g>
<text x="0.9" y="249.9" class="ss" font-size="15.5" fill="#1a1a1a" textLength="19.6" lengthAdjust="spacingAndGlyphs">(A)</text>
<rect x="281" y="6.2" width="85.8" height="143.1" fill="#fff" stroke="#7a7a7a" stroke-width="1"/>
<g stroke-width="1.5">
<path d="M281.7 13.4H305.5" stroke="#2b2b2b"/>
<path d="M281.7 25.2H305.5" stroke="#e8383d"/>
<path d="M281.7 37H305.5" stroke="#2f6bd6"/>
<path d="M281.7 48.7H305.5" stroke="#35a070"/>
<path d="M281.7 60.5H305.5" stroke="#a466e0"/>
<path d="M281.7 72.3H305.5" stroke="#d4a017"/>
<path d="M281.7 84.1H305.5" stroke="#1ec3d3"/>
<path d="M281.7 95.9H305.5" stroke="#784444"/>
<path d="M281.7 107.6H305.5" stroke="#9a9a2a"/>
<path d="M281.7 119.4H305.5" stroke="#f26a26"/>
<path d="M281.7 131.2H305.5" stroke="#5b9bd5"/>
<path d="M281.7 143H305.5" stroke="#6cc024"/>
</g>
<g class="sf" font-size="10" fill="#383838">
<text x="310.8" y="16.7"><tspan textLength="22.6" lengthAdjust="spacingAndGlyphs">AT+K</tspan><tspan font-size="6" dy="-3.4">+</tspan></text>
<text x="310.8" y="28.5"><tspan textLength="22.6" lengthAdjust="spacingAndGlyphs">BT+K</tspan><tspan font-size="6" dy="-3.4">+</tspan></text>
<text x="310.8" y="40.3"><tspan textLength="22.6" lengthAdjust="spacingAndGlyphs">OT+K</tspan><tspan font-size="6" dy="-3.4">+</tspan></text>
<text x="310.8" y="52"><tspan textLength="22.6" lengthAdjust="spacingAndGlyphs">TT+K</tspan><tspan font-size="6" dy="-3.4">+</tspan></text>
<text x="310.8" y="63.8"><tspan textLength="22.6" lengthAdjust="spacingAndGlyphs">HT+K</tspan><tspan font-size="6" dy="-3.4">+</tspan></text>
<text x="310.8" y="75.6"><tspan textLength="45.2" lengthAdjust="spacingAndGlyphs">HT-V15+K</tspan><tspan font-size="6" dy="-3.4">+</tspan></text>
<text x="310.8" y="87.4"><tspan textLength="45.2" lengthAdjust="spacingAndGlyphs">HT-V18+K</tspan><tspan font-size="6" dy="-3.4">+</tspan></text>
<text x="310.8" y="99.2"><tspan textLength="33.9" lengthAdjust="spacingAndGlyphs">PW17+K</tspan><tspan font-size="6" dy="-3.4">+</tspan></text>
<text x="310.8" y="110.9"><tspan textLength="45.2" lengthAdjust="spacingAndGlyphs">PS2. M+K</tspan><tspan font-size="6" dy="-3.4">+</tspan></text>
<text x="310.8" y="122.7"><tspan textLength="45.2" lengthAdjust="spacingAndGlyphs">PS5. M+K</tspan><tspan font-size="6" dy="-3.4">+</tspan></text>
<text x="310.8" y="134.5"><tspan textLength="45.2" lengthAdjust="spacingAndGlyphs">T30695+K</tspan><tspan font-size="6" dy="-3.4">+</tspan></text>
<text x="310.8" y="146.3"><tspan textLength="50.9" lengthAdjust="spacingAndGlyphs">AGRO100+K</tspan><tspan font-size="6" dy="-3.4">+</tspan></text>
</g>
<g fill="none" stroke-width="1.35" stroke-linejoin="round" stroke-linecap="round">
<polyline stroke="#505050" points="496.8,196.5 500.1,196.5 503.4,196.5 506.7,196.4 510,196.4 513.3,196.3 516.5,196.3 519.8,196.3 523.1,196.2 526.4,196.2 529.7,196.1 533,196.1 536.3,196 539.5,196 542.8,196 546.1,195.9 549.4,195.9 552.7,195.8 556,195.8 559.2,195.7 562.5,195.7 565.8,195.6 569.1,195.5 572.4,195.5 575.7,195.3 578.9,195.2 579.8,195.1 580.6,195.1 581.4,195 582.2,195 583.1,194.9 583.9,194.8 584.7,194.8 585.5,194.7 586.3,194.6 587.2,194.5 588,194.4 588.8,194.3 589.6,194.2 590.4,194.1 591.3,193.9 592.1,193.8 592.9,193.6 593.7,193.4 594.5,193.3 595.4,193 596.2,192.8 597,192.5 597.8,192.3 598.7,191.9 599.5,191.6 600.3,191.2 601.1,190.8 601.9,190.3 602.8,189.8 603.6,189.2 604.4,188.6 605.2,187.9 606,187.2 606.9,186.4 607.7,185.5 608.5,184.5 609.3,183.4 610.1,182.3 611,181 611.8,179.7 612.6,178.3 613.4,176.8 614.3,175.2 615.1,173.5 615.9,171.8 616.7,169.9 617.5,168 618.4,166.1 619.2,164.1 620,162.1 620.8,160 621.6,158 622.5,155.9 623.3,153.9 624.1,151.9 624.9,150 625.7,148.1 626.6,146.4 627.4,144.7 628.2,143.2 629,141.8 629.9,140.5 630.7,139.4 631.5,138.4 632.3,137.6 633.1,137 634,136.6 634.8,136.4 635.6,136.4 636.4,136.7 637.2,137.1 638.1,137.8 638.9,138.7 639.7,139.8 640.5,141.1 641.3,142.5 642.2,144.1 643,145.8 643.8,147.6 644.6,149.5 645.5,151.4 646.3,153.4 647.1,155.4 647.9,157.4 648.7,159.4 649.6,161.3 650.4,163.2 651.2,165 652,166.8 652.8,168.4 653.7,170 654.5,171.5 655.3,172.9 656.1,174.2 656.9,175.4 657.8,176.5 658.6,177.5 659.4,178.4 660.2,179.2 661.1,180 661.9,180.7 662.7,181.3 663.5,181.8 664.3,182.3 665.2,182.7 666,183 666.8,183.3 667.6,183.6 668.4,183.8 669.3,184 670.1,184.2 670.9,184.3 671.7,184.5 672.5,184.6 673.4,184.6 674.2,184.7 675,184.7 675.8,184.8 676.7,184.8 677.5,184.8 678.3,184.9 679.1,184.9 679.9,184.9 680.8,184.9 681.6,184.9 682.4,184.9 683.2,184.9 684,184.9 684.9,184.9 685.7,184.9 686.5,184.9 687.3,184.9 688.1,184.8 689,184.8 689.8,184.8 690.6,184.8 691.4,184.8 692.3,184.8 693.1,184.8 693.9,184.8 695.5,184.8 697.2,184.7 698.8,184.7 700.5,184.6 702.1,184.4 703.7,184.3 705.4,184.1 707,183.9 708.7,183.6 710.3,183.3 712,183 713.6,182.8 715.2,182.5 716.9,182.2 718.5,181.9 720.2,181.6 721.8,181.3 723.5,181 725.1,180.7 726.7,180.5 728.4,180.2 730,179.9 731.7,179.6 733.3,179.3 734.9,179 736.6,178.7 738.2,178.4 739.9,178.2 741.5,178 743.2,178"/>
<polyline stroke="#e8383d" points="496.8,196.5 500.1,196.5 503.4,196.5 506.7,196.4 510,196.4 513.3,196.3 516.5,196.3 519.8,196.3 523.1,196.2 526.4,196.2 529.7,196.1 533,196.1 536.3,196 539.5,196 542.8,196 546.1,195.9 549.4,195.9 552.7,195.8 556,195.7 559.2,195.7 562.5,195.6 565.8,195.5 569.1,195.4 572.4,195.2 575.7,195.1 578.9,194.8 579.8,194.7 580.6,194.6 581.4,194.5 582.2,194.4 583.1,194.3 583.9,194.2 584.7,194.1 585.5,193.9 586.3,193.8 587.2,193.6 588,193.4 588.8,193.2 589.6,193 590.4,192.8 591.3,192.6 592.1,192.3 592.9,192.1 593.7,191.8 594.5,191.5 595.4,191.2 596.2,190.8 597,190.5 597.8,190.2 598.7,189.8 599.5,189.4 600.3,189.1 601.1,188.7 601.9,188.3 602.8,187.9 603.6,187.6 604.4,187.2 605.2,186.8 606,186.5 606.9,186.2 607.7,185.8 608.5,185.5 609.3,185.2 610.1,185 611,184.7 611.8,184.5 612.6,184.3 613.4,184.2 614.3,184 615.1,183.9 615.9,183.9 616.7,183.8 617.5,183.8 618.4,183.8 619.2,183.9 620,184 620.8,184.1 621.6,184.3 622.5,184.4 623.3,184.7 624.1,184.9 624.9,185.1 625.7,185.4 626.6,185.7 627.4,186 628.2,186.3 629,186.6 629.9,187 630.7,187.3 631.5,187.6 632.3,187.9 633.1,188.3 634,188.6 634.8,188.9 635.6,189.2 636.4,189.5 637.2,189.7 638.1,190 638.9,190.2 639.7,190.5 640.5,190.7 641.3,190.9 642.2,191.1 643,191.2 643.8,191.4 644.6,191.5 645.5,191.7 646.3,191.8 647.1,191.9 647.9,192 648.7,192.1 649.6,192.2 650.4,192.2 651.2,192.3 652,192.4 652.8,192.4 653.7,192.4 654.5,192.5 655.3,192.5 656.1,192.5 656.9,192.6 657.8,192.6 658.6,192.6 659.4,192.6 660.2,192.6 661.1,192.6 661.9,192.6 662.7,192.6 663.5,192.6 664.3,192.6 665.2,192.6 666,192.6 666.8,192.6 667.6,192.6 668.4,192.6 669.3,192.6 670.1,192.6 670.9,192.6 671.7,192.5 672.5,192.5 673.4,192.5 674.2,192.5 675,192.5 675.8,192.5 676.7,192.5 677.5,192.5 678.3,192.5 679.1,192.5 679.9,192.4 680.8,192.4 681.6,192.4 682.4,192.4 683.2,192.4 684,192.4 684.9,192.4 685.7,192.4 686.5,192.4 687.3,192.4 688.1,192.3 689,192.3 689.8,192.3 690.6,192.3 691.4,192.3 692.3,192.3 693.1,192.3 693.9,192.3 695.5,192.3 697.2,192.2 698.8,192.2 700.5,192.2 702.1,192.3 703.7,192.3 705.4,192.3 707,192.4 708.7,192.4 710.3,192.5 712,192.6 713.6,192.7 715.2,192.7 716.9,192.8 718.5,192.9 720.2,193 721.8,193 723.5,193.1 725.1,193.2 726.7,193.3 728.4,193.3 730,193.4 731.7,193.5 733.3,193.6 734.9,193.6 736.6,193.7 738.2,193.8 739.9,193.8 741.5,193.9 743.2,193.9"/>
<polyline stroke="#2f6bd6" points="496.8,196.5 500.1,196.5 503.4,196.5 506.7,196.4 510,196.4 513.3,196.3 516.5,196.3 519.8,196.3 523.1,196.2 526.4,196.2 529.7,196.1 533,196.1 536.3,196 539.5,196 542.8,196 546.1,195.9 549.4,195.9 552.7,195.8 556,195.7 559.2,195.7 562.5,195.6 565.8,195.5 569.1,195.4 572.4,195.3 575.7,195.1 578.9,194.8 579.8,194.8 580.6,194.7 581.4,194.6 582.2,194.5 583.1,194.4 583.9,194.3 584.7,194.1 585.5,194 586.3,193.9 587.2,193.7 588,193.5 588.8,193.4 589.6,193.2 590.4,193 591.3,192.7 592.1,192.5 592.9,192.3 593.7,192 594.5,191.7 595.4,191.4 596.2,191.2 597,190.9 597.8,190.5 598.7,190.2 599.5,189.9 600.3,189.6 601.1,189.3 601.9,188.9 602.8,188.6 603.6,188.3 604.4,188 605.2,187.7 606,187.4 606.9,187.1 607.7,186.8 608.5,186.6 609.3,186.4 610.1,186.1 611,186 611.8,185.8 612.6,185.6 613.4,185.5 614.3,185.4 615.1,185.3 615.9,185.3 616.7,185.2 617.5,185.2 618.4,185.2 619.2,185.2 620,185.2 620.8,185.2 621.6,185.3 622.5,185.4 623.3,185.5 624.1,185.6 624.9,185.7 625.7,185.8 626.6,186 627.4,186.2 628.2,186.4 629,186.5 629.9,186.7 630.7,186.9 631.5,187.1 632.3,187.3 633.1,187.5 634,187.8 634.8,188 635.6,188.2 636.4,188.4 637.2,188.6 638.1,188.8 638.9,189 639.7,189.2 640.5,189.4 641.3,189.6 642.2,189.8 643,189.9 643.8,190.1 644.6,190.3 645.5,190.4 646.3,190.6 647.1,190.7 647.9,190.9 648.7,191 649.6,191.1 650.4,191.2 651.2,191.3 652,191.4 652.8,191.5 653.7,191.6 654.5,191.7 655.3,191.8 656.1,191.9 656.9,191.9 657.8,192 658.6,192 659.4,192.1 660.2,192.1 661.1,192.2 661.9,192.2 662.7,192.3 663.5,192.3 664.3,192.3 665.2,192.3 666,192.4 666.8,192.4 667.6,192.4 668.4,192.4 669.3,192.4 670.1,192.4 670.9,192.4 671.7,192.4 672.5,192.4 673.4,192.4 674.2,192.4 675,192.4 675.8,192.4 676.7,192.4 677.5,192.4 678.3,192.4 679.1,192.4 679.9,192.4 680.8,192.4 681.6,192.4 682.4,192.4 683.2,192.4 684,192.4 684.9,192.4 685.7,192.4 686.5,192.4 687.3,192.4 688.1,192.3 689,192.3 689.8,192.3 690.6,192.3 691.4,192.3 692.3,192.3 693.1,192.3 693.9,192.3 695.5,192.3 697.2,192.2 698.8,192.2 700.5,192.3 702.1,192.3 703.7,192.3 705.4,192.4 707,192.4 708.7,192.5 710.3,192.6 712,192.7 713.6,192.8 715.2,192.8 716.9,192.9 718.5,193 720.2,193.1 721.8,193.2 723.5,193.3 725.1,193.4 726.7,193.5 728.4,193.5 730,193.6 731.7,193.7 733.3,193.8 734.9,193.9 736.6,194 738.2,194.1 739.9,194.1 741.5,194.2 743.2,194.2"/>
<polyline stroke="#2fa062" points="496.8,196.5 500.1,196.5 503.4,196.5 506.7,196.4 510,196.4 513.3,196.3 516.5,196.3 519.8,196.3 523.1,196.2 526.4,196.2 529.7,196.1 533,196.1 536.3,196 539.5,196 542.8,196 546.1,195.9 549.4,195.9 552.7,195.8 556,195.8 559.2,195.7 562.5,195.7 565.8,195.6 569.1,195.5 572.4,195.4 575.7,195.3 578.9,195.2 579.8,195.1 580.6,195.1 581.4,195.1 582.2,195 583.1,194.9 583.9,194.9 584.7,194.8 585.5,194.8 586.3,194.7 587.2,194.6 588,194.5 588.8,194.4 589.6,194.4 590.4,194.2 591.3,194.1 592.1,194 592.9,193.9 593.7,193.7 594.5,193.6 595.4,193.4 596.2,193.2 597,193 597.8,192.8 598.7,192.5 599.5,192.2 600.3,191.9 601.1,191.6 601.9,191.2 602.8,190.8 603.6,190.4 604.4,190 605.2,189.5 606,188.9 606.9,188.4 607.7,187.8 608.5,187.1 609.3,186.4 610.1,185.7 611,184.9 611.8,184.1 612.6,183.3 613.4,182.5 614.3,181.6 615.1,180.7 615.9,179.7 616.7,178.8 617.5,177.8 618.4,176.9 619.2,175.9 620,175 620.8,174.1 621.6,173.1 622.5,172.3 623.3,171.4 624.1,170.6 624.9,169.8 625.7,169.1 626.6,168.4 627.4,167.8 628.2,167.2 629,166.7 629.9,166.3 630.7,166 631.5,165.7 632.3,165.5 633.1,165.4 634,165.5 634.8,165.6 635.6,165.9 636.4,166.2 637.2,166.6 638.1,167.2 638.9,167.8 639.7,168.5 640.5,169.3 641.3,170.1 642.2,170.9 643,171.8 643.8,172.8 644.6,173.7 645.5,174.6 646.3,175.6 647.1,176.5 647.9,177.4 648.7,178.3 649.6,179.1 650.4,180 651.2,180.7 652,181.5 652.8,182.2 653.7,182.8 654.5,183.4 655.3,184 656.1,184.5 656.9,184.9 657.8,185.4 658.6,185.7 659.4,186.1 660.2,186.4 661.1,186.7 661.9,186.9 662.7,187.1 663.5,187.3 664.3,187.5 665.2,187.6 666,187.8 666.8,187.9 667.6,188 668.4,188 669.3,188.1 670.1,188.2 670.9,188.2 671.7,188.2 672.5,188.3 673.4,188.3 674.2,188.3 675,188.3 675.8,188.3 676.7,188.3 677.5,188.3 678.3,188.3 679.1,188.3 679.9,188.3 680.8,188.3 681.6,188.3 682.4,188.3 683.2,188.3 684,188.3 684.9,188.3 685.7,188.3 686.5,188.3 687.3,188.2 688.1,188.2 689,188.2 689.8,188.2 690.6,188.2 691.4,188.2 692.3,188.2 693.1,188.2 693.9,188.2 695.5,188.1 697.2,188.1 698.8,188.1 700.5,188.1 702.1,188.1 703.7,188 705.4,188 707,188 708.7,187.9 710.3,187.9 712,187.9 713.6,187.8 715.2,187.8 716.9,187.7 718.5,187.7 720.2,187.7 721.8,187.6 723.5,187.6 725.1,187.6 726.7,187.5 728.4,187.5 730,187.5 731.7,187.4 733.3,187.4 734.9,187.4 736.6,187.3 738.2,187.3 739.9,187.3 741.5,187.2 743.2,187.2"/>
<polyline stroke="#b878e0" points="496.8,196.5 500.1,196.5 503.4,196.5 506.7,196.4 510,196.4 513.3,196.3 516.5,196.3 519.8,196.3 523.1,196.2 526.4,196.2 529.7,196.1 533,196.1 536.3,196 539.5,196 542.8,196 546.1,195.9 549.4,195.9 552.7,195.8 556,195.8 559.2,195.7 562.5,195.6 565.8,195.5 569.1,195.4 572.4,195.3 575.7,195.1 578.9,194.9 579.8,194.9 580.6,194.8 581.4,194.7 582.2,194.6 583.1,194.5 583.9,194.4 584.7,194.3 585.5,194.2 586.3,194.1 587.2,194 588,193.8 588.8,193.7 589.6,193.5 590.4,193.3 591.3,193.1 592.1,192.9 592.9,192.7 593.7,192.5 594.5,192.2 595.4,192 596.2,191.7 597,191.4 597.8,191.1 598.7,190.8 599.5,190.5 600.3,190.2 601.1,189.9 601.9,189.6 602.8,189.3 603.6,189 604.4,188.7 605.2,188.4 606,188.1 606.9,187.8 607.7,187.6 608.5,187.3 609.3,187.1 610.1,186.9 611,186.7 611.8,186.5 612.6,186.3 613.4,186.2 614.3,186.1 615.1,186 615.9,186 616.7,185.9 617.5,185.9 618.4,185.9 619.2,185.9 620,185.9 620.8,186 621.6,186 622.5,186.1 623.3,186.2 624.1,186.3 624.9,186.5 625.7,186.6 626.6,186.8 627.4,187 628.2,187.2 629,187.4 629.9,187.6 630.7,187.8 631.5,188 632.3,188.2 633.1,188.4 634,188.7 634.8,188.9 635.6,189.1 636.4,189.3 637.2,189.5 638.1,189.7 638.9,189.9 639.7,190.1 640.5,190.3 641.3,190.5 642.2,190.7 643,190.9 643.8,191 644.6,191.2 645.5,191.3 646.3,191.5 647.1,191.6 647.9,191.8 648.7,191.9 649.6,192 650.4,192.1 651.2,192.2 652,192.3 652.8,192.4 653.7,192.4 654.5,192.5 655.3,192.6 656.1,192.6 656.9,192.7 657.8,192.7 658.6,192.8 659.4,192.8 660.2,192.8 661.1,192.9 661.9,192.9 662.7,192.9 663.5,192.9 664.3,193 665.2,193 666,193 666.8,193 667.6,193 668.4,193 669.3,193 670.1,193 670.9,193 671.7,193 672.5,193 673.4,193 674.2,193 675,193 675.8,193 676.7,193 677.5,193 678.3,193 679.1,193 679.9,192.9 680.8,192.9 681.6,192.9 682.4,192.9 683.2,192.9 684,192.9 684.9,192.9 685.7,192.9 686.5,192.9 687.3,192.9 688.1,192.9 689,192.8 689.8,192.8 690.6,192.8 691.4,192.8 692.3,192.8 693.1,192.8 693.9,192.8 695.5,192.8 697.2,192.7 698.8,192.7 700.5,192.7 702.1,192.8 703.7,192.8 705.4,192.8 707,192.9 708.7,192.9 710.3,193 712,193 713.6,193.1 715.2,193.2 716.9,193.2 718.5,193.3 720.2,193.4 721.8,193.4 723.5,193.5 725.1,193.6 726.7,193.6 728.4,193.7 730,193.8 731.7,193.8 733.3,193.9 734.9,194 736.6,194 738.2,194.1 739.9,194.2 741.5,194.2 743.2,194.2"/>
<polyline stroke="#dca010" points="496.8,196.5 500.1,196.5 503.4,196.5 506.7,196.4 510,196.4 513.3,196.3 516.5,196.3 519.8,196.3 523.1,196.2 526.4,196.2 529.7,196.1 533,196.1 536.3,196 539.5,196 542.8,196 546.1,195.9 549.4,195.9 552.7,195.8 556,195.8 559.2,195.7 562.5,195.7 565.8,195.6 569.1,195.5 572.4,195.5 575.7,195.3 578.9,195.2 579.8,195.1 580.6,195.1 581.4,195 582.2,195 583.1,194.9 583.9,194.8 584.7,194.8 585.5,194.7 586.3,194.6 587.2,194.5 588,194.4 588.8,194.3 589.6,194.2 590.4,194 591.3,193.9 592.1,193.8 592.9,193.6 593.7,193.4 594.5,193.2 595.4,193 596.2,192.8 597,192.5 597.8,192.2 598.7,191.9 599.5,191.5 600.3,191.1 601.1,190.7 601.9,190.2 602.8,189.7 603.6,189.1 604.4,188.5 605.2,187.8 606,187 606.9,186.2 607.7,185.3 608.5,184.3 609.3,183.2 610.1,182 611,180.8 611.8,179.5 612.6,178 613.4,176.5 614.3,174.9 615.1,173.3 615.9,171.5 616.7,169.7 617.5,167.8 618.4,165.9 619.2,163.9 620,161.9 620.8,159.9 621.6,157.8 622.5,155.8 623.3,153.9 624.1,151.9 624.9,150.1 625.7,148.3 626.6,146.6 627.4,145 628.2,143.5 629,142.2 629.9,141 630.7,139.9 631.5,139.1 632.3,138.4 633.1,137.9 634,137.5 634.8,137.4 635.6,137.5 636.4,137.9 637.2,138.4 638.1,139.2 638.9,140.1 639.7,141.2 640.5,142.6 641.3,144 642.2,145.6 643,147.3 643.8,149.2 644.6,151 645.5,153 646.3,154.9 647.1,156.9 647.9,158.8 648.7,160.8 649.6,162.7 650.4,164.5 651.2,166.3 652,168 652.8,169.6 653.7,171.1 654.5,172.5 655.3,173.9 656.1,175.1 656.9,176.3 657.8,177.3 658.6,178.3 659.4,179.1 660.2,179.9 661.1,180.6 661.9,181.3 662.7,181.8 663.5,182.3 664.3,182.8 665.2,183.2 666,183.5 666.8,183.8 667.6,184 668.4,184.2 669.3,184.4 670.1,184.6 670.9,184.7 671.7,184.8 672.5,184.9 673.4,185 674.2,185 675,185.1 675.8,185.1 676.7,185.1 677.5,185.2 678.3,185.2 679.1,185.2 679.9,185.2 680.8,185.2 681.6,185.2 682.4,185.2 683.2,185.2 684,185.2 684.9,185.2 685.7,185.2 686.5,185.2 687.3,185.2 688.1,185.2 689,185.1 689.8,185.1 690.6,185.1 691.4,185.1 692.3,185.1 693.1,185.1 693.9,185.1 695.5,185.1 697.2,185 698.8,185 700.5,184.9 702.1,184.8 703.7,184.6 705.4,184.5 707,184.3 708.7,184 710.3,183.8 712,183.5 713.6,183.3 715.2,183 716.9,182.8 718.5,182.5 720.2,182.2 721.8,182 723.5,181.7 725.1,181.5 726.7,181.2 728.4,181 730,180.7 731.7,180.4 733.3,180.2 734.9,179.9 736.6,179.7 738.2,179.4 739.9,179.2 741.5,179.1 743.2,179"/>
<polyline stroke="#1ec3d3" points="496.8,196.5 500.1,196.5 503.4,196.5 506.7,196.4 510,196.4 513.3,196.3 516.5,196.3 519.8,196.3 523.1,196.2 526.4,196.2 529.7,196.1 533,196.1 536.3,196 539.5,196 542.8,196 546.1,195.9 549.4,195.9 552.7,195.8 556,195.8 559.2,195.7 562.5,195.7 565.8,195.6 569.1,195.5 572.4,195.5 575.7,195.4 578.9,195.3 579.8,195.2 580.6,195.2 581.4,195.2 582.2,195.1 583.1,195.1 583.9,195 584.7,195 585.5,194.9 586.3,194.9 587.2,194.8 588,194.7 588.8,194.6 589.6,194.6 590.4,194.5 591.3,194.4 592.1,194.3 592.9,194.2 593.7,194 594.5,193.9 595.4,193.8 596.2,193.6 597,193.5 597.8,193.3 598.7,193.1 599.5,193 600.3,192.8 601.1,192.6 601.9,192.3 602.8,192.1 603.6,191.9 604.4,191.7 605.2,191.5 606,191.2 606.9,191 607.7,190.7 608.5,190.5 609.3,190.3 610.1,190.1 611,189.8 611.8,189.6 612.6,189.4 613.4,189.2 614.3,189 615.1,188.9 615.9,188.7 616.7,188.6 617.5,188.4 618.4,188.3 619.2,188.2 620,188.2 620.8,188.1 621.6,188.1 622.5,188 623.3,188 624.1,188 624.9,188.1 625.7,188.1 626.6,188.2 627.4,188.2 628.2,188.3 629,188.4 629.9,188.6 630.7,188.7 631.5,188.8 632.3,189 633.1,189.1 634,189.3 634.8,189.5 635.6,189.7 636.4,189.8 637.2,190 638.1,190.2 638.9,190.4 639.7,190.6 640.5,190.7 641.3,190.9 642.2,191.1 643,191.2 643.8,191.4 644.6,191.5 645.5,191.7 646.3,191.8 647.1,191.9 647.9,192 648.7,192.2 649.6,192.3 650.4,192.4 651.2,192.5 652,192.6 652.8,192.6 653.7,192.7 654.5,192.8 655.3,192.8 656.1,192.9 656.9,192.9 657.8,193 658.6,193 659.4,193.1 660.2,193.1 661.1,193.1 661.9,193.1 662.7,193.2 663.5,193.2 664.3,193.2 665.2,193.2 666,193.2 666.8,193.2 667.6,193.2 668.4,193.2 669.3,193.2 670.1,193.2 670.9,193.2 671.7,193.2 672.5,193.2 673.4,193.2 674.2,193.2 675,193.2 675.8,193.2 676.7,193.2 677.5,193.2 678.3,193.2 679.1,193.2 679.9,193.2 680.8,193.1 681.6,193.1 682.4,193.1 683.2,193.1 684,193.1 684.9,193.1 685.7,193.1 686.5,193.1 687.3,193.1 688.1,193.1 689,193.1 689.8,193 690.6,193 691.4,193 692.3,193 693.1,193 693.9,193 695.5,193 697.2,193 698.8,192.9 700.5,192.9 702.1,193 703.7,193 705.4,193 707,193 708.7,193.1 710.3,193.1 712,193.2 713.6,193.3 715.2,193.3 716.9,193.4 718.5,193.4 720.2,193.5 721.8,193.5 723.5,193.6 725.1,193.7 726.7,193.7 728.4,193.8 730,193.8 731.7,193.9 733.3,193.9 734.9,194 736.6,194.1 738.2,194.1 739.9,194.2 741.5,194.2 743.2,194.2"/>
<polyline stroke="#784444" points="496.8,196.5 500.1,196.5 503.4,196.5 506.7,196.4 510,196.4 513.3,196.3 516.5,196.3 519.8,196.3 523.1,196.2 526.4,196.2 529.7,196.1 533,196.1 536.3,196 539.5,196 542.8,196 546.1,195.9 549.4,195.9 552.7,195.8 556,195.8 559.2,195.7 562.5,195.7 565.8,195.6 569.1,195.5 572.4,195.5 575.7,195.3 578.9,195.2 579.8,195.1 580.6,195.1 581.4,195 582.2,195 583.1,194.9 583.9,194.8 584.7,194.8 585.5,194.7 586.3,194.6 587.2,194.5 588,194.4 588.8,194.3 589.6,194.2 590.4,194.1 591.3,193.9 592.1,193.8 592.9,193.6 593.7,193.4 594.5,193.3 595.4,193 596.2,192.8 597,192.5 597.8,192.3 598.7,191.9 599.5,191.6 600.3,191.2 601.1,190.8 601.9,190.3 602.8,189.8 603.6,189.2 604.4,188.6 605.2,187.9 606,187.2 606.9,186.4 607.7,185.5 608.5,184.5 609.3,183.4 610.1,182.3 611,181 611.8,179.7 612.6,178.3 613.4,176.8 614.3,175.2 615.1,173.5 615.9,171.8 616.7,169.9 617.5,168 618.4,166.1 619.2,164.1 620,162.1 620.8,160 621.6,158 622.5,155.9 623.3,153.9 624.1,151.9 624.9,150 625.7,148.1 626.6,146.4 627.4,144.7 628.2,143.2 629,141.8 629.9,140.5 630.7,139.4 631.5,138.4 632.3,137.6 633.1,137 634,136.6 634.8,136.4 635.6,136.4 636.4,136.7 637.2,137.1 638.1,137.8 638.9,138.7 639.7,139.8 640.5,141.1 641.3,142.5 642.2,144.1 643,145.8 643.8,147.6 644.6,149.5 645.5,151.4 646.3,153.4 647.1,155.4 647.9,157.4 648.7,159.4 649.6,161.3 650.4,163.2 651.2,165 652,166.8 652.8,168.4 653.7,170 654.5,171.5 655.3,172.9 656.1,174.2 656.9,175.4 657.8,176.5 658.6,177.5 659.4,178.4 660.2,179.2 661.1,180 661.9,180.7 662.7,181.3 663.5,181.8 664.3,182.3 665.2,182.7 666,183 666.8,183.3 667.6,183.6 668.4,183.8 669.3,184 670.1,184.2 670.9,184.3 671.7,184.5 672.5,184.6 673.4,184.6 674.2,184.7 675,184.7 675.8,184.8 676.7,184.8 677.5,184.8 678.3,184.9 679.1,184.9 679.9,184.9 680.8,184.9 681.6,184.9 682.4,184.9 683.2,184.9 684,184.9 684.9,184.9 685.7,184.9 686.5,184.9 687.3,184.9 688.1,184.8 689,184.8 689.8,184.8 690.6,184.8 691.4,184.8 692.3,184.8 693.1,184.8 693.9,184.8 695.5,184.8 697.2,184.7 698.8,184.7 700.5,184.6 702.1,184.4 703.7,184.3 705.4,184.1 707,183.9 708.7,183.6 710.3,183.3 712,183 713.6,182.8 715.2,182.5 716.9,182.2 718.5,181.9 720.2,181.6 721.8,181.3 723.5,181 725.1,180.7 726.7,180.5 728.4,180.2 730,179.9 731.7,179.6 733.3,179.3 734.9,179 736.6,178.7 738.2,178.4 739.9,178.2 741.5,178 743.2,178"/>
<polyline stroke="#9a9a2a" points="496.8,196.5 500.1,196.5 503.4,196.5 506.7,196.4 510,196.4 513.3,196.3 516.5,196.3 519.8,196.3 523.1,196.2 526.4,196.2 529.7,196.1 533,196.1 536.3,196 539.5,196 542.8,196 546.1,195.9 549.4,195.9 552.7,195.8 556,195.8 559.2,195.7 562.5,195.6 565.8,195.5 569.1,195.5 572.4,195.3 575.7,195.2 578.9,195 579.8,195 580.6,195 581.4,194.9 582.2,194.8 583.1,194.8 583.9,194.7 584.7,194.6 585.5,194.6 586.3,194.5 587.2,194.4 588,194.3 588.8,194.2 589.6,194.1 590.4,194 591.3,193.9 592.1,193.7 592.9,193.6 593.7,193.4 594.5,193.2 595.4,193 596.2,192.8 597,192.6 597.8,192.4 598.7,192.1 599.5,191.9 600.3,191.6 601.1,191.3 601.9,190.9 602.8,190.6 603.6,190.2 604.4,189.8 605.2,189.3 606,188.9 606.9,188.4 607.7,187.9 608.5,187.4 609.3,186.8 610.1,186.3 611,185.7 611.8,185.1 612.6,184.5 613.4,183.8 614.3,183.2 615.1,182.5 615.9,181.9 616.7,181.2 617.5,180.5 618.4,179.9 619.2,179.2 620,178.6 620.8,178 621.6,177.4 622.5,176.8 623.3,176.2 624.1,175.7 624.9,175.1 625.7,174.7 626.6,174.2 627.4,173.8 628.2,173.4 629,173 629.9,172.7 630.7,172.5 631.5,172.3 632.3,172.1 633.1,172 634,171.9 634.8,171.9 635.6,172 636.4,172.1 637.2,172.3 638.1,172.6 638.9,172.9 639.7,173.3 640.5,173.7 641.3,174.1 642.2,174.6 643,175.2 643.8,175.7 644.6,176.3 645.5,176.9 646.3,177.6 647.1,178.2 647.9,178.8 648.7,179.5 649.6,180.1 650.4,180.7 651.2,181.3 652,181.9 652.8,182.5 653.7,183 654.5,183.6 655.3,184.1 656.1,184.6 656.9,185 657.8,185.5 658.6,185.9 659.4,186.3 660.2,186.6 661.1,187 661.9,187.3 662.7,187.6 663.5,187.9 664.3,188.1 665.2,188.3 666,188.5 666.8,188.7 667.6,188.9 668.4,189 669.3,189.2 670.1,189.3 670.9,189.4 671.7,189.5 672.5,189.6 673.4,189.6 674.2,189.7 675,189.8 675.8,189.8 676.7,189.8 677.5,189.9 678.3,189.9 679.1,189.9 679.9,189.9 680.8,190 681.6,190 682.4,190 683.2,190 684,190 684.9,190 685.7,190 686.5,190 687.3,190 688.1,190 689,190 689.8,190 690.6,190 691.4,190 692.3,189.9 693.1,189.9 693.9,189.9 695.5,189.9 697.2,189.9 698.8,189.9 700.5,189.8 702.1,189.8 703.7,189.8 705.4,189.7 707,189.7 708.7,189.6 710.3,189.5 712,189.5 713.6,189.4 715.2,189.4 716.9,189.3 718.5,189.3 720.2,189.2 721.8,189.1 723.5,189.1 725.1,189 726.7,189 728.4,188.9 730,188.8 731.7,188.8 733.3,188.7 734.9,188.7 736.6,188.6 738.2,188.6 739.9,188.5 741.5,188.5 743.2,188.4"/>
<polyline stroke="#f26a26" points="496.8,196.5 500.1,196.5 503.4,196.5 506.7,196.4 510,196.4 513.3,196.3 516.5,196.3 519.8,196.3 523.1,196.2 526.4,196.2 529.7,196.1 533,196.1 536.3,196 539.5,196 542.8,196 546.1,195.9 549.4,195.9 552.7,195.8 556,195.8 559.2,195.7 562.5,195.7 565.8,195.6 569.1,195.5 572.4,195.4 575.7,195.3 578.9,195.1 579.8,195.1 580.6,195 581.4,195 582.2,194.9 583.1,194.9 583.9,194.8 584.7,194.7 585.5,194.6 586.3,194.5 587.2,194.4 588,194.3 588.8,194.2 589.6,194.1 590.4,194 591.3,193.8 592.1,193.6 592.9,193.5 593.7,193.3 594.5,193.1 595.4,192.8 596.2,192.6 597,192.3 597.8,192 598.7,191.6 599.5,191.3 600.3,190.8 601.1,190.4 601.9,189.9 602.8,189.3 603.6,188.7 604.4,188 605.2,187.3 606,186.4 606.9,185.6 607.7,184.6 608.5,183.5 609.3,182.4 610.1,181.2 611,179.9 611.8,178.5 612.6,177 613.4,175.4 614.3,173.7 615.1,172 615.9,170.2 616.7,168.3 617.5,166.4 618.4,164.4 619.2,162.4 620,160.4 620.8,158.3 621.6,156.3 622.5,154.3 623.3,152.3 624.1,150.4 624.9,148.6 625.7,146.8 626.6,145.2 627.4,143.6 628.2,142.2 629,141 629.9,139.9 630.7,138.9 631.5,138.1 632.3,137.5 633.1,137.1 634,136.9 634.8,137 635.6,137.2 636.4,137.6 637.2,138.3 638.1,139.2 638.9,140.3 639.7,141.5 640.5,142.9 641.3,144.5 642.2,146.2 643,148 643.8,149.8 644.6,151.8 645.5,153.7 646.3,155.7 647.1,157.7 647.9,159.6 648.7,161.5 649.6,163.4 650.4,165.2 651.2,166.9 652,168.6 652.8,170.2 653.7,171.6 654.5,173 655.3,174.3 656.1,175.5 656.9,176.6 657.8,177.6 658.6,178.5 659.4,179.3 660.2,180.1 661.1,180.7 661.9,181.3 662.7,181.8 663.5,182.3 664.3,182.7 665.2,183.1 666,183.4 666.8,183.6 667.6,183.9 668.4,184.1 669.3,184.2 670.1,184.4 670.9,184.5 671.7,184.6 672.5,184.6 673.4,184.7 674.2,184.8 675,184.8 675.8,184.8 676.7,184.9 677.5,184.9 678.3,184.9 679.1,184.9 679.9,184.9 680.8,184.9 681.6,184.9 682.4,184.9 683.2,184.9 684,184.9 684.9,184.9 685.7,184.9 686.5,184.9 687.3,184.9 688.1,184.9 689,184.8 689.8,184.8 690.6,184.8 691.4,184.8 692.3,184.8 693.1,184.8 693.9,184.8 695.5,184.8 697.2,184.7 698.8,184.7 700.5,184.6 702.1,184.5 703.7,184.3 705.4,184.1 707,183.9 708.7,183.7 710.3,183.4 712,183.2 713.6,182.9 715.2,182.6 716.9,182.4 718.5,182.1 720.2,181.8 721.8,181.6 723.5,181.3 725.1,181 726.7,180.8 728.4,180.5 730,180.2 731.7,180 733.3,179.7 734.9,179.5 736.6,179.2 738.2,178.9 739.9,178.7 741.5,178.5 743.2,178.5"/>
<polyline stroke="#5b9bd5" points="496.8,196.5 500.1,196.5 503.4,196.5 506.7,196.4 510,196.4 513.3,196.3 516.5,196.3 519.8,196.3 523.1,196.2 526.4,196.2 529.7,196.1 533,196.1 536.3,196 539.5,196 542.8,196 546.1,195.9 549.4,195.9 552.7,195.8 556,195.8 559.2,195.7 562.5,195.7 565.8,195.6 569.1,195.5 572.4,195.4 575.7,195.2 578.9,195 579.8,194.9 580.6,194.8 581.4,194.7 582.2,194.6 583.1,194.5 583.9,194.4 584.7,194.3 585.5,194.1 586.3,194 587.2,193.8 588,193.6 588.8,193.4 589.6,193.2 590.4,193 591.3,192.7 592.1,192.4 592.9,192.1 593.7,191.7 594.5,191.4 595.4,190.9 596.2,190.5 597,190 597.8,189.4 598.7,188.8 599.5,188.1 600.3,187.3 601.1,186.5 601.9,185.5 602.8,184.5 603.6,183.3 604.4,182 605.2,180.5 606,178.9 606.9,177.1 607.7,175 608.5,172.8 609.3,170.3 610.1,167.6 611,164.6 611.8,161.3 612.6,157.7 613.4,153.7 614.3,149.5 615.1,145 615.9,140.1 616.7,134.9 617.5,129.4 618.4,123.6 619.2,117.6 620,111.3 620.8,104.9 621.6,98.3 622.5,91.6 623.3,84.8 624.1,78.1 624.9,71.4 625.7,64.9 626.6,58.6 627.4,52.5 628.2,46.8 629,41.4 629.9,36.5 630.7,32.1 631.5,28.3 632.3,25 633.1,22.4 634,20.5 634.8,19.2 635.6,18.6 636.4,18.6 637.2,19.2 638.1,20.5 638.9,22.5 639.7,25 640.5,28.2 641.3,31.9 642.2,36.1 643,40.7 643.8,45.8 644.6,51.2 645.5,56.8 646.3,62.6 647.1,68.5 647.9,74.6 648.7,80.6 649.6,86.6 650.4,92.5 651.2,98.2 652,103.8 652.8,109.2 653.7,114.3 654.5,119.2 655.3,123.9 656.1,128.2 656.9,132.3 657.8,136.1 658.6,139.6 659.4,142.8 660.2,145.7 661.1,148.4 661.9,150.8 662.7,153 663.5,155 664.3,156.7 665.2,158.3 666,159.6 666.8,160.9 667.6,161.9 668.4,162.8 669.3,163.6 670.1,164.3 670.9,164.9 671.7,165.4 672.5,165.8 673.4,166.2 674.2,166.5 675,166.7 675.8,166.9 676.7,167.1 677.5,167.2 678.3,167.3 679.1,167.4 679.9,167.5 680.8,167.6 681.6,167.6 682.4,167.6 683.2,167.7 684,167.7 684.9,167.7 685.7,167.7 686.5,167.7 687.3,167.7 688.1,167.7 689,167.7 689.8,167.7 690.6,167.7 691.4,167.7 692.3,167.7 693.1,167.7 693.9,167.7 695.5,167.7 697.2,167.6 698.8,167.6 700.5,167.5 702.1,167.4 703.7,167.1 705.4,166.7 707,166.2 708.7,165.7 710.3,165 712,164.2 713.6,163.3 715.2,162.3 716.9,161.3 718.5,160.3 720.2,159.4 721.8,158.4 723.5,157.4 725.1,156.4 726.7,155.4 728.4,154.4 730,153.5 731.7,152.5 733.3,151.5 734.9,150.5 736.6,149.5 738.2,148.5 739.9,147.6 741.5,147.1 743.2,146.9"/>
<polyline stroke="#6cc024" points="496.8,196.5 500.1,196.5 503.4,196.5 506.7,196.4 510,196.4 513.3,196.3 516.5,196.3 519.8,196.3 523.1,196.2 526.4,196.2 529.7,196.1 533,196.1 536.3,196 539.5,196 542.8,196 546.1,195.9 549.4,195.9 552.7,195.8 556,195.8 559.2,195.7 562.5,195.7 565.8,195.6 569.1,195.6 572.4,195.5 575.7,195.4 578.9,195.2 579.8,195.2 580.6,195.1 581.4,195.1 582.2,195 583.1,195 583.9,194.9 584.7,194.9 585.5,194.8 586.3,194.7 587.2,194.6 588,194.5 588.8,194.5 589.6,194.4 590.4,194.2 591.3,194.1 592.1,194 592.9,193.8 593.7,193.7 594.5,193.5 595.4,193.3 596.2,193.1 597,192.9 597.8,192.6 598.7,192.4 599.5,192.1 600.3,191.7 601.1,191.4 601.9,190.9 602.8,190.5 603.6,190 604.4,189.4 605.2,188.8 606,188.2 606.9,187.5 607.7,186.7 608.5,185.9 609.3,185 610.1,184 611,182.9 611.8,181.8 612.6,180.7 613.4,179.4 614.3,178.1 615.1,176.7 615.9,175.3 616.7,173.8 617.5,172.3 618.4,170.8 619.2,169.2 620,167.6 620.8,166.1 621.6,164.5 622.5,162.9 623.3,161.4 624.1,159.9 624.9,158.5 625.7,157.2 626.6,155.9 627.4,154.7 628.2,153.6 629,152.7 629.9,151.8 630.7,151.1 631.5,150.5 632.3,150 633.1,149.7 634,149.6 634.8,149.6 635.6,149.8 636.4,150.1 637.2,150.6 638.1,151.3 638.9,152.2 639.7,153.1 640.5,154.2 641.3,155.4 642.2,156.8 643,158.1 643.8,159.6 644.6,161.1 645.5,162.6 646.3,164.1 647.1,165.6 647.9,167.1 648.7,168.5 649.6,170 650.4,171.3 651.2,172.6 652,173.9 652.8,175.1 653.7,176.2 654.5,177.2 655.3,178.2 656.1,179.1 656.9,179.9 657.8,180.6 658.6,181.3 659.4,181.9 660.2,182.4 661.1,182.9 661.9,183.4 662.7,183.8 663.5,184.1 664.3,184.4 665.2,184.7 666,184.9 666.8,185.1 667.6,185.2 668.4,185.4 669.3,185.5 670.1,185.6 670.9,185.7 671.7,185.7 672.5,185.8 673.4,185.8 674.2,185.9 675,185.9 675.8,185.9 676.7,185.9 677.5,185.9 678.3,185.9 679.1,185.9 679.9,185.9 680.8,185.9 681.6,185.9 682.4,185.9 683.2,185.9 684,185.9 684.9,185.9 685.7,185.9 686.5,185.9 687.3,185.9 688.1,185.9 689,185.9 689.8,185.9 690.6,185.8 691.4,185.8 692.3,185.8 693.1,185.8 693.9,185.8 695.5,185.8 697.2,185.8 698.8,185.7 700.5,185.7 702.1,185.6 703.7,185.5 705.4,185.4 707,185.3 708.7,185.2 710.3,185 712,184.9 713.6,184.7 715.2,184.6 716.9,184.4 718.5,184.3 720.2,184.1 721.8,184 723.5,183.8 725.1,183.7 726.7,183.6 728.4,183.4 730,183.3 731.7,183.1 733.3,183 734.9,182.8 736.6,182.7 738.2,182.5 739.9,182.4 741.5,182.3 743.2,182.3"/>
</g>
<rect x="464" y="3" width="312" height="215.5" fill="none" stroke="#333" stroke-width="1.2"/>
<path d="M480.4 218.5v-4M496.8 218.5v-2.2M513.3 218.5v-4M529.7 218.5v-2.2M546.1 218.5v-4M562.5 218.5v-2.2M578.9 218.5v-4M595.4 218.5v-2.2M611.8 218.5v-4M628.2 218.5v-2.2M644.6 218.5v-4M661.1 218.5v-2.2M677.5 218.5v-4M693.9 218.5v-2.2M710.3 218.5v-4M726.7 218.5v-2.2M743.2 218.5v-4M759.6 218.5v-2.2M464 208.2h2.2M464 198h4M464 187.7h2.2M464 177.5h4M464 167.2h2.2M464 156.9h4M464 146.7h2.2M464 136.4h4M464 126.1h2.2M464 115.9h4M464 105.6h2.2M464 95.4h4M464 85.1h2.2M464 74.8h4M464 64.6h2.2M464 54.3h4M464 44h2.2M464 33.8h4M464 23.5h2.2M464 13.3h4" stroke="#333" stroke-width="1.1" fill="none"/>
<g class="sf" font-size="8.3" fill="#333">
<text x="480.4" y="231.2" text-anchor="middle" textLength="16.6" lengthAdjust="spacingAndGlyphs">540</text>
<text x="513.3" y="231.2" text-anchor="middle" textLength="16.6" lengthAdjust="spacingAndGlyphs">560</text>
<text x="546.1" y="231.2" text-anchor="middle" textLength="16.6" lengthAdjust="spacingAndGlyphs">580</text>
<text x="578.9" y="231.2" text-anchor="middle" textLength="16.6" lengthAdjust="spacingAndGlyphs">600</text>
<text x="611.8" y="231.2" text-anchor="middle" textLength="16.6" lengthAdjust="spacingAndGlyphs">620</text>
<text x="644.6" y="231.2" text-anchor="middle" textLength="16.6" lengthAdjust="spacingAndGlyphs">640</text>
<text x="677.5" y="231.2" text-anchor="middle" textLength="16.6" lengthAdjust="spacingAndGlyphs">660</text>
<text x="710.3" y="231.2" text-anchor="middle" textLength="16.6" lengthAdjust="spacingAndGlyphs">680</text>
<text x="743.2" y="231.2" text-anchor="middle" textLength="16.6" lengthAdjust="spacingAndGlyphs">700</text>
<text x="776" y="231.2" text-anchor="middle" textLength="16.6" lengthAdjust="spacingAndGlyphs">720</text>
<text x="458.5" y="221.4" text-anchor="end" textLength="22.1" lengthAdjust="spacingAndGlyphs">−200</text>
<text x="458.5" y="200.9" text-anchor="end" textLength="5.5" lengthAdjust="spacingAndGlyphs">0</text>
<text x="458.5" y="180.4" text-anchor="end" textLength="16.6" lengthAdjust="spacingAndGlyphs">200</text>
<text x="458.5" y="159.8" text-anchor="end" textLength="16.6" lengthAdjust="spacingAndGlyphs">400</text>
<text x="458.5" y="139.3" text-anchor="end" textLength="16.6" lengthAdjust="spacingAndGlyphs">600</text>
<text x="458.5" y="118.8" text-anchor="end" textLength="16.6" lengthAdjust="spacingAndGlyphs">800</text>
<text x="458.5" y="98.3" text-anchor="end" textLength="22.1" lengthAdjust="spacingAndGlyphs">1000</text>
<text x="458.5" y="77.7" text-anchor="end" textLength="22.1" lengthAdjust="spacingAndGlyphs">1200</text>
<text x="458.5" y="57.2" text-anchor="end" textLength="22.1" lengthAdjust="spacingAndGlyphs">1400</text>
<text x="458.5" y="36.7" text-anchor="end" textLength="22.1" lengthAdjust="spacingAndGlyphs">1600</text>
<text x="458.5" y="16.2" text-anchor="end" textLength="22.1" lengthAdjust="spacingAndGlyphs">1800</text>
</g>
<text x="618.7" y="245.6" text-anchor="middle" class="mo" font-size="11" fill="#333" stroke="#333" stroke-width="0.35" textLength="89.3" lengthAdjust="spacingAndGlyphs">Wavelength(nm)</text>
<g transform="translate(422.4 156.2) rotate(-90)" class="sf" font-size="10.5" fill="#3a3a3a">
<text x="0" y="0" textLength="66.3" lengthAdjust="spacingAndGlyphs">Fluorescence</text>
<text x="67.9" y="0" textLength="32.5" lengthAdjust="spacingAndGlyphs">(a. u.)</text>
</g>
<text x="419.5" y="249.9" class="ss" font-size="15.5" fill="#1a1a1a" textLength="18.4" lengthAdjust="spacingAndGlyphs">(B)</text>
<rect x="686.1" y="4.4" width="86.7" height="139.2" fill="#fff" stroke="#6a6a6a" stroke-width="1"/>
<g stroke-width="1.5">
<path d="M687.3 11.7H709.2" stroke="#505050"/>
<path d="M687.3 23.2H709.2" stroke="#e8383d"/>
<path d="M687.3 34.7H709.2" stroke="#2f6bd6"/>
<path d="M687.3 46.2H709.2" stroke="#2fa062"/>
<path d="M687.3 57.7H709.2" stroke="#b878e0"/>
<path d="M687.3 69.2H709.2" stroke="#dca010"/>
<path d="M687.3 80.7H709.2" stroke="#1ec3d3"/>
<path d="M687.3 92.2H709.2" stroke="#784444"/>
<path d="M687.3 103.7H709.2" stroke="#9a9a2a"/>
<path d="M687.3 115.2H709.2" stroke="#f26a26"/>
<path d="M687.3 126.7H709.2" stroke="#5b9bd5"/>
<path d="M687.3 138.2H709.2" stroke="#6cc024"/>
</g>
<g class="sf" font-size="9.6" fill="#505050">
<text x="714.3" y="14.9"><tspan textLength="26.5" lengthAdjust="spacingAndGlyphs">AT+Na</tspan><tspan font-size="5.8" dy="-3.4">+</tspan></text>
<text x="714.3" y="26.4"><tspan textLength="26.5" lengthAdjust="spacingAndGlyphs">BT+Na</tspan><tspan font-size="5.8" dy="-3.4">+</tspan></text>
<text x="714.3" y="37.9"><tspan textLength="26.5" lengthAdjust="spacingAndGlyphs">OT+Na</tspan><tspan font-size="5.8" dy="-3.4">+</tspan></text>
<text x="714.3" y="49.4"><tspan textLength="26.5" lengthAdjust="spacingAndGlyphs">TT+Na</tspan><tspan font-size="5.8" dy="-3.4">+</tspan></text>
<text x="714.3" y="60.9"><tspan textLength="26.5" lengthAdjust="spacingAndGlyphs">HT+Na</tspan><tspan font-size="5.8" dy="-3.4">+</tspan></text>
<text x="714.3" y="72.4"><tspan textLength="47.7" lengthAdjust="spacingAndGlyphs">HT-V15+Na</tspan><tspan font-size="5.8" dy="-3.4">+</tspan></text>
<text x="714.3" y="83.9"><tspan textLength="47.7" lengthAdjust="spacingAndGlyphs">HT-V18+Na</tspan><tspan font-size="5.8" dy="-3.4">+</tspan></text>
<text x="714.3" y="95.4"><tspan textLength="37.1" lengthAdjust="spacingAndGlyphs">PW17+Na</tspan><tspan font-size="5.8" dy="-3.4">+</tspan></text>
<text x="714.3" y="106.9"><tspan textLength="47.7" lengthAdjust="spacingAndGlyphs">PS2. M+Na</tspan><tspan font-size="5.8" dy="-3.4">+</tspan></text>
<text x="714.3" y="118.4"><tspan textLength="47.7" lengthAdjust="spacingAndGlyphs">PS5. M+Na</tspan><tspan font-size="5.8" dy="-3.4">+</tspan></text>
<text x="714.3" y="129.9"><tspan textLength="47.7" lengthAdjust="spacingAndGlyphs">T30695+Na</tspan><tspan font-size="5.8" dy="-3.4">+</tspan></text>
<text x="714.3" y="141.4"><tspan textLength="53" lengthAdjust="spacingAndGlyphs">AGRO100+Na</tspan><tspan font-size="5.8" dy="-3.4">+</tspan></text>
</g>
<g fill="none" stroke-width="1.35" stroke-linejoin="round" stroke-linecap="round">
<polyline stroke="#2b2b2b" points="281.3,494.6 284.8,494.5 288.3,494.5 291.9,494.4 295.4,494.3 298.9,494.3 302.4,494.2 305.9,494.1 309.4,494.1 312.9,494 316.4,494 319.9,493.9 323.4,493.8 326.9,493.8 330.4,493.7 333.9,493.6 337.5,493.6 341,493.5 344.5,493.4 348,493.3 351.5,493.3 355,493.2 358.5,493 362,492.9 365.5,492.7 369,492.5 369.9,492.5 370.8,492.4 371.7,492.3 372.5,492.2 373.4,492.2 374.3,492.1 375.2,492 376,491.9 376.9,491.8 377.8,491.6 378.7,491.5 379.6,491.3 380.4,491.2 381.3,491 382.2,490.8 383.1,490.6 383.9,490.4 384.8,490.2 385.7,490 386.6,489.7 387.4,489.5 388.3,489.2 389.2,488.9 390.1,488.6 391,488.3 391.8,487.9 392.7,487.6 393.6,487.3 394.5,486.9 395.3,486.6 396.2,486.2 397.1,485.8 398,485.5 398.8,485.2 399.7,484.8 400.6,484.5 401.5,484.2 402.4,483.9 403.2,483.6 404.1,483.3 405,483.1 405.9,482.8 406.7,482.6 407.6,482.5 408.5,482.3 409.4,482.2 410.2,482.1 411.1,482.1 412,482 412.9,482 413.8,482 414.6,482.1 415.5,482.1 416.4,482.2 417.3,482.3 418.1,482.5 419,482.6 419.9,482.8 420.8,483 421.6,483.2 422.5,483.4 423.4,483.7 424.3,483.9 425.2,484.2 426,484.4 426.9,484.7 427.8,485 428.7,485.3 429.5,485.5 430.4,485.8 431.3,486.1 432.2,486.3 433,486.6 433.9,486.8 434.8,487.1 435.7,487.3 436.6,487.5 437.4,487.7 438.3,488 439.2,488.1 440.1,488.3 440.9,488.5 441.8,488.7 442.7,488.8 443.6,489 444.4,489.1 445.3,489.2 446.2,489.3 447.1,489.4 448,489.5 448.8,489.6 449.7,489.7 450.6,489.7 451.5,489.8 452.3,489.8 453.2,489.9 454.1,489.9 455,490 455.8,490 456.7,490 457.6,490 458.5,490.1 459.4,490.1 460.2,490.1 461.1,490.1 462,490.1 462.9,490.1 463.7,490.1 464.6,490.1 465.5,490.1 466.4,490.1 467.2,490.1 468.1,490.1 469,490.1 469.9,490 470.8,490 471.6,490 472.5,490 473.4,490 474.3,490 475.1,490 476,490 476.9,489.9 477.8,489.9 478.6,489.9 479.5,489.9 480.4,489.9 481.3,489.9 482.2,489.9 483,489.8 483.9,489.8 484.8,489.8 485.7,489.8 486.5,489.8 487.4,489.8 488.3,489.7 489.2,489.7 490,489.7 490.9,489.7 491.8,489.7 493.6,489.7 495.3,489.6 497.1,489.6 498.8,489.6 500.6,489.6 502.3,489.6 504.1,489.7 505.8,489.7 507.6,489.8 509.3,489.9 511.1,489.9 512.9,490 514.6,490.1 516.4,490.2 518.1,490.2 519.9,490.3 521.6,490.4 523.4,490.4 525.1,490.5 526.9,490.6 528.6,490.7 530.4,490.7 532.1,490.8 533.9,490.9 535.7,491 537.4,491 539.2,491.1 540.9,491.2 542.7,491.2 544.4,491.2"/>
<polyline stroke="#d8404e" points="281.3,494.6 284.8,494.5 288.3,494.5 291.9,494.4 295.4,494.3 298.9,494.3 302.4,494.2 305.9,494.1 309.4,494.1 312.9,494 316.4,494 319.9,493.9 323.4,493.8 326.9,493.8 330.4,493.7 333.9,493.6 337.5,493.6 341,493.5 344.5,493.4 348,493.3 351.5,493.2 355,493.1 358.5,492.9 362,492.8 365.5,492.5 369,492.2 369.9,492.1 370.8,492.1 371.7,491.9 372.5,491.8 373.4,491.7 374.3,491.6 375.2,491.4 376,491.3 376.9,491.1 377.8,490.9 378.7,490.7 379.6,490.5 380.4,490.2 381.3,490 382.2,489.7 383.1,489.4 383.9,489.1 384.8,488.7 385.7,488.4 386.6,488 387.4,487.6 388.3,487.2 389.2,486.7 390.1,486.2 391,485.8 391.8,485.2 392.7,484.7 393.6,484.2 394.5,483.7 395.3,483.1 396.2,482.6 397.1,482 398,481.5 398.8,481 399.7,480.4 400.6,479.9 401.5,479.4 402.4,479 403.2,478.5 404.1,478.1 405,477.7 405.9,477.4 406.7,477 407.6,476.8 408.5,476.5 409.4,476.3 410.2,476.2 411.1,476.1 412,476 412.9,476 413.8,476 414.6,476 415.5,476.1 416.4,476.2 417.3,476.4 418.1,476.6 419,476.9 419.9,477.1 420.8,477.4 421.6,477.8 422.5,478.1 423.4,478.5 424.3,478.9 425.2,479.3 426,479.7 426.9,480.1 427.8,480.6 428.7,481 429.5,481.4 430.4,481.9 431.3,482.3 432.2,482.7 433,483.1 433.9,483.5 434.8,483.9 435.7,484.2 436.6,484.6 437.4,484.9 438.3,485.3 439.2,485.6 440.1,485.9 440.9,486.1 441.8,486.4 442.7,486.6 443.6,486.9 444.4,487.1 445.3,487.3 446.2,487.4 447.1,487.6 448,487.8 448.8,487.9 449.7,488 450.6,488.1 451.5,488.2 452.3,488.3 453.2,488.4 454.1,488.5 455,488.5 455.8,488.6 456.7,488.6 457.6,488.7 458.5,488.7 459.4,488.7 460.2,488.7 461.1,488.8 462,488.8 462.9,488.8 463.7,488.8 464.6,488.8 465.5,488.8 466.4,488.8 467.2,488.8 468.1,488.8 469,488.8 469.9,488.8 470.8,488.8 471.6,488.8 472.5,488.8 473.4,488.7 474.3,488.7 475.1,488.7 476,488.7 476.9,488.7 477.8,488.7 478.6,488.7 479.5,488.7 480.4,488.6 481.3,488.6 482.2,488.6 483,488.6 483.9,488.6 484.8,488.6 485.7,488.6 486.5,488.5 487.4,488.5 488.3,488.5 489.2,488.5 490,488.5 490.9,488.5 491.8,488.4 493.6,488.4 495.3,488.4 497.1,488.4 498.8,488.4 500.6,488.4 502.3,488.5 504.1,488.6 505.8,488.6 507.6,488.7 509.3,488.9 511.1,489 512.9,489.1 514.6,489.2 516.4,489.4 518.1,489.5 519.9,489.6 521.6,489.8 523.4,489.9 525.1,490 526.9,490.1 528.6,490.3 530.4,490.4 532.1,490.5 533.9,490.6 535.7,490.8 537.4,490.9 539.2,491 540.9,491.1 542.7,491.2 544.4,491.2"/>
<polyline stroke="#2f6bd6" points="281.3,494.6 284.8,494.5 288.3,494.5 291.9,494.4 295.4,494.3 298.9,494.3 302.4,494.2 305.9,494.1 309.4,494.1 312.9,494 316.4,494 319.9,493.9 323.4,493.8 326.9,493.8 330.4,493.7 333.9,493.6 337.5,493.6 341,493.5 344.5,493.4 348,493.3 351.5,493.3 355,493.2 358.5,493.1 362,492.9 365.5,492.8 369,492.6 369.9,492.5 370.8,492.4 371.7,492.4 372.5,492.3 373.4,492.2 374.3,492.1 375.2,492 376,491.9 376.9,491.8 377.8,491.7 378.7,491.6 379.6,491.4 380.4,491.3 381.3,491.1 382.2,491 383.1,490.8 383.9,490.6 384.8,490.4 385.7,490.1 386.6,489.9 387.4,489.6 388.3,489.3 389.2,489 390.1,488.7 391,488.4 391.8,488 392.7,487.7 393.6,487.3 394.5,486.9 395.3,486.5 396.2,486.1 397.1,485.7 398,485.3 398.8,484.9 399.7,484.5 400.6,484.1 401.5,483.7 402.4,483.3 403.2,483 404.1,482.6 405,482.3 405.9,482 406.7,481.7 407.6,481.4 408.5,481.2 409.4,481 410.2,480.8 411.1,480.7 412,480.6 412.9,480.5 413.8,480.5 414.6,480.5 415.5,480.5 416.4,480.5 417.3,480.6 418.1,480.7 419,480.8 419.9,481 420.8,481.2 421.6,481.4 422.5,481.6 423.4,481.8 424.3,482.1 425.2,482.4 426,482.7 426.9,483 427.8,483.3 428.7,483.6 429.5,483.9 430.4,484.2 431.3,484.5 432.2,484.9 433,485.2 433.9,485.5 434.8,485.8 435.7,486.1 436.6,486.4 437.4,486.6 438.3,486.9 439.2,487.2 440.1,487.4 440.9,487.6 441.8,487.9 442.7,488.1 443.6,488.3 444.4,488.4 445.3,488.6 446.2,488.8 447.1,488.9 448,489 448.8,489.2 449.7,489.3 450.6,489.4 451.5,489.5 452.3,489.6 453.2,489.6 454.1,489.7 455,489.8 455.8,489.8 456.7,489.9 457.6,489.9 458.5,489.9 459.4,490 460.2,490 461.1,490 462,490 462.9,490 463.7,490 464.6,490 465.5,490 466.4,490 467.2,490 468.1,490 469,490 469.9,490 470.8,490 471.6,490 472.5,490 473.4,490 474.3,490 475.1,490 476,489.9 476.9,489.9 477.8,489.9 478.6,489.9 479.5,489.9 480.4,489.9 481.3,489.9 482.2,489.8 483,489.8 483.9,489.8 484.8,489.8 485.7,489.8 486.5,489.8 487.4,489.8 488.3,489.7 489.2,489.7 490,489.7 490.9,489.7 491.8,489.7 493.6,489.7 495.3,489.6 497.1,489.6 498.8,489.6 500.6,489.6 502.3,489.6 504.1,489.7 505.8,489.7 507.6,489.8 509.3,489.9 511.1,489.9 512.9,490 514.6,490.1 516.4,490.2 518.1,490.2 519.9,490.3 521.6,490.4 523.4,490.4 525.1,490.5 526.9,490.6 528.6,490.7 530.4,490.7 532.1,490.8 533.9,490.9 535.7,491 537.4,491 539.2,491.1 540.9,491.2 542.7,491.2 544.4,491.2"/>
<polyline stroke="#2e9060" points="281.3,494.6 284.8,494.5 288.3,494.5 291.9,494.4 295.4,494.3 298.9,494.3 302.4,494.2 305.9,494.1 309.4,494.1 312.9,494 316.4,494 319.9,493.9 323.4,493.8 326.9,493.8 330.4,493.7 333.9,493.6 337.5,493.6 341,493.5 344.5,493.4 348,493.3 351.5,493.3 355,493.2 358.5,493 362,492.9 365.5,492.7 369,492.5 369.9,492.5 370.8,492.4 371.7,492.3 372.5,492.3 373.4,492.2 374.3,492.1 375.2,492 376,491.9 376.9,491.8 377.8,491.6 378.7,491.5 379.6,491.4 380.4,491.2 381.3,491 382.2,490.9 383.1,490.7 383.9,490.4 384.8,490.2 385.7,490 386.6,489.7 387.4,489.4 388.3,489.1 389.2,488.8 390.1,488.5 391,488.2 391.8,487.8 392.7,487.4 393.6,487.1 394.5,486.7 395.3,486.3 396.2,485.9 397.1,485.5 398,485 398.8,484.6 399.7,484.2 400.6,483.8 401.5,483.4 402.4,483 403.2,482.7 404.1,482.3 405,482 405.9,481.7 406.7,481.4 407.6,481.1 408.5,480.9 409.4,480.7 410.2,480.5 411.1,480.4 412,480.3 412.9,480.2 413.8,480.2 414.6,480.2 415.5,480.2 416.4,480.2 417.3,480.3 418.1,480.4 419,480.5 419.9,480.7 420.8,480.9 421.6,481.1 422.5,481.3 423.4,481.6 424.3,481.8 425.2,482.1 426,482.4 426.9,482.7 427.8,483 428.7,483.3 429.5,483.7 430.4,484 431.3,484.3 432.2,484.6 433,484.9 433.9,485.3 434.8,485.6 435.7,485.9 436.6,486.1 437.4,486.4 438.3,486.7 439.2,486.9 440.1,487.2 440.9,487.4 441.8,487.6 442.7,487.8 443.6,488 444.4,488.2 445.3,488.4 446.2,488.5 447.1,488.7 448,488.8 448.8,488.9 449.7,489 450.6,489.1 451.5,489.2 452.3,489.3 453.2,489.4 454.1,489.4 455,489.5 455.8,489.5 456.7,489.6 457.6,489.6 458.5,489.6 459.4,489.7 460.2,489.7 461.1,489.7 462,489.7 462.9,489.7 463.7,489.7 464.6,489.7 465.5,489.7 466.4,489.7 467.2,489.7 468.1,489.7 469,489.7 469.9,489.7 470.8,489.7 471.6,489.7 472.5,489.7 473.4,489.7 474.3,489.7 475.1,489.7 476,489.6 476.9,489.6 477.8,489.6 478.6,489.6 479.5,489.6 480.4,489.6 481.3,489.6 482.2,489.5 483,489.5 483.9,489.5 484.8,489.5 485.7,489.5 486.5,489.5 487.4,489.4 488.3,489.4 489.2,489.4 490,489.4 490.9,489.4 491.8,489.4 493.6,489.3 495.3,489.3 497.1,489.3 498.8,489.3 500.6,489.3 502.3,489.4 504.1,489.4 505.8,489.5 507.6,489.5 509.3,489.6 511.1,489.7 512.9,489.8 514.6,489.9 516.4,490 518.1,490 519.9,490.1 521.6,490.2 523.4,490.3 525.1,490.4 526.9,490.5 528.6,490.6 530.4,490.6 532.1,490.7 533.9,490.8 535.7,490.9 537.4,491 539.2,491.1 540.9,491.2 542.7,491.2 544.4,491.2"/>
<polyline stroke="#a58ac8" points="281.3,494.6 284.8,494.5 288.3,494.5 291.9,494.4 295.4,494.3 298.9,494.3 302.4,494.2 305.9,494.1 309.4,494.1 312.9,494 316.4,494 319.9,493.9 323.4,493.8 326.9,493.8 330.4,493.7 333.9,493.6 337.5,493.6 341,493.5 344.5,493.4 348,493.3 351.5,493.2 355,493.1 358.5,493 362,492.9 365.5,492.7 369,492.5 369.9,492.4 370.8,492.4 371.7,492.3 372.5,492.2 373.4,492.1 374.3,492 375.2,491.9 376,491.8 376.9,491.7 377.8,491.6 378.7,491.5 379.6,491.3 380.4,491.2 381.3,491 382.2,490.8 383.1,490.7 383.9,490.5 384.8,490.3 385.7,490.1 386.6,489.8 387.4,489.6 388.3,489.4 389.2,489.1 390.1,488.8 391,488.6 391.8,488.3 392.7,488 393.6,487.7 394.5,487.5 395.3,487.2 396.2,486.9 397.1,486.6 398,486.3 398.8,486 399.7,485.8 400.6,485.5 401.5,485.3 402.4,485 403.2,484.8 404.1,484.6 405,484.4 405.9,484.3 406.7,484.1 407.6,484 408.5,483.9 409.4,483.8 410.2,483.8 411.1,483.7 412,483.7 412.9,483.7 413.8,483.8 414.6,483.8 415.5,483.9 416.4,483.9 417.3,484 418.1,484.1 419,484.2 419.9,484.4 420.8,484.5 421.6,484.7 422.5,484.8 423.4,485 424.3,485.2 425.2,485.4 426,485.6 426.9,485.8 427.8,486 428.7,486.2 429.5,486.5 430.4,486.7 431.3,486.9 432.2,487.1 433,487.3 433.9,487.5 434.8,487.7 435.7,487.9 436.6,488.1 437.4,488.3 438.3,488.5 439.2,488.6 440.1,488.8 440.9,489 441.8,489.1 442.7,489.3 443.6,489.4 444.4,489.5 445.3,489.7 446.2,489.8 447.1,489.9 448,490 448.8,490.1 449.7,490.2 450.6,490.2 451.5,490.3 452.3,490.4 453.2,490.4 454.1,490.5 455,490.5 455.8,490.6 456.7,490.6 457.6,490.6 458.5,490.7 459.4,490.7 460.2,490.7 461.1,490.7 462,490.8 462.9,490.8 463.7,490.8 464.6,490.8 465.5,490.8 466.4,490.8 467.2,490.8 468.1,490.8 469,490.8 469.9,490.8 470.8,490.8 471.6,490.8 472.5,490.8 473.4,490.7 474.3,490.7 475.1,490.7 476,490.7 476.9,490.7 477.8,490.7 478.6,490.7 479.5,490.7 480.4,490.7 481.3,490.6 482.2,490.6 483,490.6 483.9,490.6 484.8,490.6 485.7,490.6 486.5,490.6 487.4,490.5 488.3,490.5 489.2,490.5 490,490.5 490.9,490.5 491.8,490.5 493.6,490.4 495.3,490.4 497.1,490.4 498.8,490.4 500.6,490.4 502.3,490.4 504.1,490.4 505.8,490.5 507.6,490.5 509.3,490.6 511.1,490.6 512.9,490.7 514.6,490.8 516.4,490.8 518.1,490.9 519.9,490.9 521.6,491 523.4,491 525.1,491.1 526.9,491.2 528.6,491.2 530.4,491.3 532.1,491.3 533.9,491.4 535.7,491.5 537.4,491.5 539.2,491.6 540.9,491.6 542.7,491.7 544.4,491.6"/>
<polyline stroke="#cc9c18" points="281.3,494.6 284.8,494.5 288.3,494.5 291.9,494.4 295.4,494.3 298.9,494.3 302.4,494.2 305.9,494.1 309.4,494.1 312.9,494 316.4,494 319.9,493.9 323.4,493.8 326.9,493.8 330.4,493.7 333.9,493.6 337.5,493.6 341,493.5 344.5,493.5 348,493.4 351.5,493.3 355,493.3 358.5,493.2 362,493.1 365.5,493 369,492.9 369.9,492.8 370.8,492.8 371.7,492.7 372.5,492.7 373.4,492.6 374.3,492.6 375.2,492.5 376,492.4 376.9,492.3 377.8,492.3 378.7,492.2 379.6,492.1 380.4,492 381.3,491.9 382.2,491.7 383.1,491.6 383.9,491.4 384.8,491.3 385.7,491.1 386.6,490.9 387.4,490.7 388.3,490.4 389.2,490.2 390.1,489.9 391,489.6 391.8,489.2 392.7,488.8 393.6,488.4 394.5,487.9 395.3,487.3 396.2,486.7 397.1,486 398,485.2 398.8,484.3 399.7,483.3 400.6,482.2 401.5,481 402.4,479.6 403.2,478.1 404.1,476.5 405,474.7 405.9,472.7 406.7,470.5 407.6,468.2 408.5,465.6 409.4,462.9 410.2,460.1 411.1,457 412,453.8 412.9,450.5 413.8,447.1 414.6,443.6 415.5,440 416.4,436.4 417.3,432.8 418.1,429.2 419,425.8 419.9,422.4 420.8,419.2 421.6,416.2 422.5,413.5 423.4,410.9 424.3,408.7 425.2,406.8 426,405.3 426.9,404.1 427.8,403.4 428.7,402.9 429.5,402.8 430.4,403.1 431.3,403.6 432.2,404.5 433,405.8 433.9,407.3 434.8,409.1 435.7,411.2 436.6,413.6 437.4,416.1 438.3,418.9 439.2,421.7 440.1,424.7 440.9,427.7 441.8,430.8 442.7,433.9 443.6,437 444.4,440 445.3,443 446.2,445.9 447.1,448.7 448,451.4 448.8,453.9 449.7,456.3 450.6,458.5 451.5,460.6 452.3,462.6 453.2,464.4 454.1,466.1 455,467.6 455.8,469 456.7,470.2 457.6,471.3 458.5,472.3 459.4,473.2 460.2,474 461.1,474.7 462,475.3 462.9,475.8 463.7,476.3 464.6,476.7 465.5,477 466.4,477.3 467.2,477.5 468.1,477.7 469,477.9 469.9,478 470.8,478.2 471.6,478.2 472.5,478.3 473.4,478.4 474.3,478.4 475.1,478.5 476,478.5 476.9,478.5 477.8,478.5 478.6,478.5 479.5,478.5 480.4,478.5 481.3,478.5 482.2,478.5 483,478.5 483.9,478.5 484.8,478.5 485.7,478.5 486.5,478.5 487.4,478.4 488.3,478.4 489.2,478.4 490,478.4 490.9,478.4 491.8,478.4 493.6,478.3 495.3,478.3 497.1,478.2 498.8,478.1 500.6,477.9 502.3,477.6 504.1,477.4 505.8,477.1 507.6,476.7 509.3,476.3 511.1,475.9 512.9,475.5 514.6,475.1 516.4,474.7 518.1,474.3 519.9,473.9 521.6,473.5 523.4,473 525.1,472.6 526.9,472.2 528.6,471.8 530.4,471.4 532.1,471 533.9,470.6 535.7,470.2 537.4,469.8 539.2,469.4 540.9,469 542.7,468.8 544.4,468.7"/>
<polyline stroke="#1ec3d3" points="281.3,494.6 284.8,494.5 288.3,494.5 291.9,494.4 295.4,494.3 298.9,494.3 302.4,494.2 305.9,494.1 309.4,494.1 312.9,494 316.4,494 319.9,493.9 323.4,493.8 326.9,493.8 330.4,493.7 333.9,493.6 337.5,493.6 341,493.5 344.5,493.4 348,493.3 351.5,493.3 355,493.2 358.5,493.1 362,492.9 365.5,492.8 369,492.6 369.9,492.5 370.8,492.5 371.7,492.4 372.5,492.3 373.4,492.2 374.3,492.2 375.2,492.1 376,492 376.9,491.9 377.8,491.7 378.7,491.6 379.6,491.5 380.4,491.3 381.3,491.2 382.2,491 383.1,490.8 383.9,490.6 384.8,490.4 385.7,490.2 386.6,489.9 387.4,489.7 388.3,489.4 389.2,489.1 390.1,488.8 391,488.5 391.8,488.2 392.7,487.8 393.6,487.4 394.5,487.1 395.3,486.7 396.2,486.3 397.1,485.9 398,485.5 398.8,485.1 399.7,484.7 400.6,484.3 401.5,484 402.4,483.6 403.2,483.2 404.1,482.9 405,482.6 405.9,482.3 406.7,482 407.6,481.7 408.5,481.5 409.4,481.3 410.2,481.1 411.1,481 412,480.9 412.9,480.8 413.8,480.8 414.6,480.8 415.5,480.8 416.4,480.8 417.3,480.9 418.1,481 419,481.1 419.9,481.3 420.8,481.5 421.6,481.6 422.5,481.9 423.4,482.1 424.3,482.4 425.2,482.6 426,482.9 426.9,483.2 427.8,483.5 428.7,483.8 429.5,484.1 430.4,484.4 431.3,484.7 432.2,485 433,485.3 433.9,485.6 434.8,485.9 435.7,486.2 436.6,486.5 437.4,486.8 438.3,487 439.2,487.3 440.1,487.5 440.9,487.7 441.8,487.9 442.7,488.1 443.6,488.3 444.4,488.5 445.3,488.7 446.2,488.8 447.1,489 448,489.1 448.8,489.2 449.7,489.3 450.6,489.4 451.5,489.5 452.3,489.6 453.2,489.7 454.1,489.7 455,489.8 455.8,489.8 456.7,489.9 457.6,489.9 458.5,489.9 459.4,490 460.2,490 461.1,490 462,490 462.9,490 463.7,490 464.6,490 465.5,490 466.4,490 467.2,490 468.1,490 469,490 469.9,490 470.8,490 471.6,490 472.5,490 473.4,490 474.3,490 475.1,490 476,489.9 476.9,489.9 477.8,489.9 478.6,489.9 479.5,489.9 480.4,489.9 481.3,489.9 482.2,489.9 483,489.8 483.9,489.8 484.8,489.8 485.7,489.8 486.5,489.8 487.4,489.8 488.3,489.7 489.2,489.7 490,489.7 490.9,489.7 491.8,489.7 493.6,489.7 495.3,489.6 497.1,489.6 498.8,489.6 500.6,489.6 502.3,489.6 504.1,489.7 505.8,489.7 507.6,489.8 509.3,489.9 511.1,489.9 512.9,490 514.6,490.1 516.4,490.2 518.1,490.2 519.9,490.3 521.6,490.4 523.4,490.4 525.1,490.5 526.9,490.6 528.6,490.7 530.4,490.7 532.1,490.8 533.9,490.9 535.7,491 537.4,491 539.2,491.1 540.9,491.2 542.7,491.2 544.4,491.2"/>
<polyline stroke="#463a48" points="281.3,494.6 284.8,494.5 288.3,494.5 291.9,494.4 295.4,494.3 298.9,494.3 302.4,494.2 305.9,494.1 309.4,494.1 312.9,494 316.4,494 319.9,493.9 323.4,493.8 326.9,493.8 330.4,493.7 333.9,493.6 337.5,493.6 341,493.5 344.5,493.5 348,493.4 351.5,493.3 355,493.3 358.5,493.2 362,493.1 365.5,493 369,492.9 369.9,492.9 370.8,492.8 371.7,492.8 372.5,492.8 373.4,492.7 374.3,492.7 375.2,492.6 376,492.6 376.9,492.6 377.8,492.5 378.7,492.4 379.6,492.4 380.4,492.3 381.3,492.3 382.2,492.2 383.1,492.1 383.9,492 384.8,491.9 385.7,491.8 386.6,491.7 387.4,491.6 388.3,491.4 389.2,491.3 390.1,491.1 391,491 391.8,490.8 392.7,490.5 393.6,490.3 394.5,490 395.3,489.7 396.2,489.4 397.1,489.1 398,488.7 398.8,488.2 399.7,487.7 400.6,487.2 401.5,486.6 402.4,485.9 403.2,485.2 404.1,484.4 405,483.6 405.9,482.7 406.7,481.7 407.6,480.7 408.5,479.6 409.4,478.4 410.2,477.2 411.1,475.9 412,474.6 412.9,473.2 413.8,471.8 414.6,470.4 415.5,468.9 416.4,467.5 417.3,466.1 418.1,464.7 419,463.3 419.9,462 420.8,460.8 421.6,459.6 422.5,458.5 423.4,457.6 424.3,456.7 425.2,456 426,455.4 426.9,454.9 427.8,454.6 428.7,454.5 429.5,454.4 430.4,454.6 431.3,454.9 432.2,455.3 433,455.9 433.9,456.6 434.8,457.5 435.7,458.4 436.6,459.5 437.4,460.6 438.3,461.8 439.2,463.1 440.1,464.4 440.9,465.8 441.8,467.1 442.7,468.4 443.6,469.8 444.4,471.1 445.3,472.3 446.2,473.5 447.1,474.7 448,475.8 448.8,476.8 449.7,477.8 450.6,478.7 451.5,479.6 452.3,480.3 453.2,481 454.1,481.7 455,482.2 455.8,482.8 456.7,483.2 457.6,483.6 458.5,484 459.4,484.3 460.2,484.6 461.1,484.8 462,485 462.9,485.2 463.7,485.3 464.6,485.5 465.5,485.6 466.4,485.6 467.2,485.7 468.1,485.8 469,485.8 469.9,485.8 470.8,485.9 471.6,485.9 472.5,485.9 473.4,485.9 474.3,485.9 475.1,485.9 476,485.9 476.9,485.9 477.8,485.9 478.6,485.9 479.5,485.9 480.4,485.8 481.3,485.8 482.2,485.8 483,485.8 483.9,485.8 484.8,485.8 485.7,485.8 486.5,485.7 487.4,485.7 488.3,485.7 489.2,485.7 490,485.7 490.9,485.7 491.8,485.7 493.6,485.6 495.3,485.6 497.1,485.5 498.8,485.5 500.6,485.4 502.3,485.4 504.1,485.3 505.8,485.2 507.6,485.1 509.3,485 511.1,484.9 512.9,484.8 514.6,484.7 516.4,484.6 518.1,484.5 519.9,484.3 521.6,484.2 523.4,484.1 525.1,484 526.9,483.9 528.6,483.8 530.4,483.7 532.1,483.6 533.9,483.5 535.7,483.4 537.4,483.3 539.2,483.2 540.9,483.1 542.7,483 544.4,483"/>
<polyline stroke="#7f8a30" points="281.3,494.6 284.8,494.5 288.3,494.5 291.9,494.4 295.4,494.3 298.9,494.3 302.4,494.2 305.9,494.1 309.4,494.1 312.9,494 316.4,494 319.9,493.9 323.4,493.8 326.9,493.8 330.4,493.7 333.9,493.6 337.5,493.5 341,493.5 344.5,493.4 348,493.3 351.5,493.2 355,493 358.5,492.9 362,492.7 365.5,492.5 369,492.2 369.9,492.1 370.8,492 371.7,491.9 372.5,491.8 373.4,491.7 374.3,491.6 375.2,491.4 376,491.3 376.9,491.1 377.8,491 378.7,490.8 379.6,490.6 380.4,490.4 381.3,490.2 382.2,489.9 383.1,489.7 383.9,489.4 384.8,489.1 385.7,488.8 386.6,488.4 387.4,488.1 388.3,487.7 389.2,487.3 390.1,486.8 391,486.3 391.8,485.8 392.7,485.3 393.6,484.7 394.5,484.1 395.3,483.5 396.2,482.8 397.1,482.2 398,481.5 398.8,480.7 399.7,480 400.6,479.2 401.5,478.4 402.4,477.6 403.2,476.8 404.1,476 405,475.2 405.9,474.4 406.7,473.6 407.6,472.8 408.5,472 409.4,471.3 410.2,470.6 411.1,469.8 412,469.2 412.9,468.5 413.8,467.9 414.6,467.3 415.5,466.8 416.4,466.3 417.3,465.8 418.1,465.4 419,465.1 419.9,464.8 420.8,464.5 421.6,464.3 422.5,464.2 423.4,464.2 424.3,464.2 425.2,464.4 426,464.5 426.9,464.8 427.8,465.1 428.7,465.6 429.5,466 430.4,466.6 431.3,467.1 432.2,467.8 433,468.4 433.9,469.1 434.8,469.9 435.7,470.6 436.6,471.4 437.4,472.1 438.3,472.9 439.2,473.7 440.1,474.4 440.9,475.2 441.8,475.9 442.7,476.6 443.6,477.3 444.4,477.9 445.3,478.6 446.2,479.2 447.1,479.8 448,480.3 448.8,480.8 449.7,481.3 450.6,481.8 451.5,482.2 452.3,482.6 453.2,483 454.1,483.3 455,483.6 455.8,483.9 456.7,484.2 457.6,484.4 458.5,484.6 459.4,484.8 460.2,485 461.1,485.1 462,485.3 462.9,485.4 463.7,485.5 464.6,485.6 465.5,485.7 466.4,485.7 467.2,485.8 468.1,485.8 469,485.9 469.9,485.9 470.8,485.9 471.6,486 472.5,486 473.4,486 474.3,486 475.1,486 476,486 476.9,486 477.8,486 478.6,486 479.5,486 480.4,486 481.3,486 482.2,486 483,486 483.9,485.9 484.8,485.9 485.7,485.9 486.5,485.9 487.4,485.9 488.3,485.9 489.2,485.9 490,485.8 490.9,485.8 491.8,485.8 493.6,485.8 495.3,485.8 497.1,485.7 498.8,485.7 500.6,485.7 502.3,485.6 504.1,485.6 505.8,485.6 507.6,485.5 509.3,485.5 511.1,485.5 512.9,485.4 514.6,485.4 516.4,485.4 518.1,485.3 519.9,485.3 521.6,485.3 523.4,485.2 525.1,485.2 526.9,485.2 528.6,485.1 530.4,485.1 532.1,485 533.9,485 535.7,485 537.4,484.9 539.2,484.9 540.9,484.9 542.7,484.8 544.4,484.8"/>
<polyline stroke="#e8682c" points="281.3,494.6 284.8,494.5 288.3,494.5 291.9,494.4 295.4,494.3 298.9,494.3 302.4,494.2 305.9,494.1 309.4,494.1 312.9,494 316.4,494 319.9,493.9 323.4,493.8 326.9,493.8 330.4,493.7 333.9,493.6 337.5,493.6 341,493.5 344.5,493.4 348,493.3 351.5,493.2 355,493.1 358.5,492.9 362,492.7 365.5,492.4 369,492 369.9,491.9 370.8,491.7 371.7,491.6 372.5,491.4 373.4,491.3 374.3,491.1 375.2,490.9 376,490.7 376.9,490.5 377.8,490.3 378.7,490.1 379.6,489.8 380.4,489.5 381.3,489.2 382.2,488.9 383.1,488.6 383.9,488.2 384.8,487.8 385.7,487.4 386.6,486.9 387.4,486.4 388.3,485.9 389.2,485.3 390.1,484.7 391,484 391.8,483.3 392.7,482.5 393.6,481.6 394.5,480.7 395.3,479.7 396.2,478.7 397.1,477.6 398,476.4 398.8,475.1 399.7,473.7 400.6,472.3 401.5,470.7 402.4,469.1 403.2,467.4 404.1,465.6 405,463.7 405.9,461.8 406.7,459.8 407.6,457.7 408.5,455.6 409.4,453.5 410.2,451.3 411.1,449.1 412,446.9 412.9,444.7 413.8,442.6 414.6,440.5 415.5,438.4 416.4,436.4 417.3,434.5 418.1,432.7 419,430.9 419.9,429.3 420.8,427.8 421.6,426.5 422.5,425.3 423.4,424.3 424.3,423.4 425.2,422.7 426,422.3 426.9,422.1 427.8,422.1 428.7,422.4 429.5,422.9 430.4,423.6 431.3,424.7 432.2,425.9 433,427.3 433.9,429 434.8,430.8 435.7,432.7 436.6,434.8 437.4,437 438.3,439.2 439.2,441.5 440.1,443.7 440.9,446 441.8,448.3 442.7,450.5 443.6,452.7 444.4,454.8 445.3,456.9 446.2,458.8 447.1,460.6 448,462.4 448.8,464 449.7,465.5 450.6,467 451.5,468.3 452.3,469.5 453.2,470.6 454.1,471.6 455,472.5 455.8,473.3 456.7,474 457.6,474.7 458.5,475.2 459.4,475.7 460.2,476.2 461.1,476.6 462,476.9 462.9,477.2 463.7,477.4 464.6,477.7 465.5,477.8 466.4,478 467.2,478.1 468.1,478.2 469,478.3 469.9,478.4 470.8,478.4 471.6,478.5 472.5,478.5 473.4,478.5 474.3,478.5 475.1,478.6 476,478.6 476.9,478.6 477.8,478.6 478.6,478.6 479.5,478.6 480.4,478.5 481.3,478.5 482.2,478.5 483,478.5 483.9,478.5 484.8,478.5 485.7,478.5 486.5,478.5 487.4,478.4 488.3,478.4 489.2,478.4 490,478.4 490.9,478.4 491.8,478.4 493.6,478.3 495.3,478.3 497.1,478.2 498.8,478.1 500.6,478 502.3,477.9 504.1,477.7 505.8,477.5 507.6,477.3 509.3,477.1 511.1,476.8 512.9,476.6 514.6,476.4 516.4,476.1 518.1,475.9 519.9,475.6 521.6,475.4 523.4,475.2 525.1,474.9 526.9,474.7 528.6,474.4 530.4,474.2 532.1,474 533.9,473.7 535.7,473.5 537.4,473.2 539.2,473 540.9,472.8 542.7,472.6 544.4,472.6"/>
<polyline stroke="#5b9bd5" points="281.3,494.6 284.8,494.5 288.3,494.5 291.9,494.4 295.4,494.3 298.9,494.3 302.4,494.2 305.9,494.1 309.4,494.1 312.9,494 316.4,494 319.9,493.9 323.4,493.8 326.9,493.8 330.4,493.7 333.9,493.6 337.5,493.6 341,493.5 344.5,493.4 348,493.4 351.5,493.3 355,493.2 358.5,493.1 362,492.9 365.5,492.7 369,492.4 369.9,492.3 370.8,492.2 371.7,492.1 372.5,491.9 373.4,491.8 374.3,491.7 375.2,491.5 376,491.4 376.9,491.2 377.8,491 378.7,490.8 379.6,490.5 380.4,490.3 381.3,490 382.2,489.7 383.1,489.4 383.9,489.1 384.8,488.7 385.7,488.2 386.6,487.8 387.4,487.3 388.3,486.7 389.2,486.1 390.1,485.4 391,484.7 391.8,483.8 392.7,482.9 393.6,481.9 394.5,480.7 395.3,479.5 396.2,478.1 397.1,476.5 398,474.8 398.8,472.9 399.7,470.8 400.6,468.5 401.5,466 402.4,463.2 403.2,460.2 404.1,456.9 405,453.3 405.9,449.5 406.7,445.3 407.6,440.9 408.5,436.2 409.4,431.2 410.2,425.9 411.1,420.4 412,414.6 412.9,408.7 413.8,402.5 414.6,396.2 415.5,389.8 416.4,383.4 417.3,377 418.1,370.6 419,364.3 419.9,358.1 420.8,352.2 421.6,346.5 422.5,341.1 423.4,336.1 424.3,331.5 425.2,327.4 426,323.7 426.9,320.5 427.8,317.9 428.7,315.9 429.5,314.6 430.4,313.8 431.3,313.7 432.2,314.4 433,315.6 433.9,317.6 434.8,320.2 435.7,323.4 436.6,327.2 437.4,331.5 438.3,336.3 439.2,341.5 440.1,347 440.9,352.8 441.8,358.8 442.7,364.9 443.6,371 444.4,377.2 445.3,383.3 446.2,389.3 447.1,395.2 448,400.8 448.8,406.3 449.7,411.5 450.6,416.4 451.5,421.1 452.3,425.4 453.2,429.5 454.1,433.2 455,436.7 455.8,439.8 456.7,442.7 457.6,445.3 458.5,447.7 459.4,449.8 460.2,451.6 461.1,453.3 462,454.8 462.9,456.1 463.7,457.2 464.6,458.2 465.5,459 466.4,459.8 467.2,460.4 468.1,460.9 469,461.4 469.9,461.7 470.8,462 471.6,462.3 472.5,462.5 473.4,462.7 474.3,462.8 475.1,463 476,463 476.9,463.1 477.8,463.2 478.6,463.2 479.5,463.2 480.4,463.3 481.3,463.3 482.2,463.3 483,463.3 483.9,463.3 484.8,463.3 485.7,463.3 486.5,463.3 487.4,463.3 488.3,463.2 489.2,463.2 490,463.2 490.9,463.2 491.8,463.2 493.6,463.2 495.3,463.1 497.1,462.9 498.8,462.6 500.6,462.2 502.3,461.7 504.1,461.1 505.8,460.4 507.6,459.6 509.3,458.7 511.1,457.8 512.9,456.8 514.6,455.9 516.4,455 518.1,454.1 519.9,453.1 521.6,452.2 523.4,451.3 525.1,450.3 526.9,449.4 528.6,448.5 530.4,447.6 532.1,446.6 533.9,445.7 535.7,444.8 537.4,443.8 539.2,442.9 540.9,442.1 542.7,441.6 544.4,441.4"/>
<polyline stroke="#6cae28" points="281.3,494.6 284.8,494.5 288.3,494.5 291.9,494.4 295.4,494.3 298.9,494.3 302.4,494.2 305.9,494.1 309.4,494.1 312.9,494 316.4,494 319.9,493.9 323.4,493.8 326.9,493.8 330.4,493.7 333.9,493.6 337.5,493.6 341,493.5 344.5,493.4 348,493.4 351.5,493.3 355,493.2 358.5,493.1 362,493 365.5,492.8 369,492.6 369.9,492.5 370.8,492.5 371.7,492.4 372.5,492.3 373.4,492.3 374.3,492.2 375.2,492.1 376,492 376.9,491.9 377.8,491.8 378.7,491.7 379.6,491.5 380.4,491.4 381.3,491.3 382.2,491.1 383.1,490.9 383.9,490.8 384.8,490.5 385.7,490.3 386.6,490.1 387.4,489.8 388.3,489.5 389.2,489.2 390.1,488.9 391,488.5 391.8,488 392.7,487.6 393.6,487.1 394.5,486.5 395.3,485.9 396.2,485.3 397.1,484.5 398,483.8 398.8,482.9 399.7,482 400.6,481 401.5,479.9 402.4,478.8 403.2,477.6 404.1,476.3 405,475 405.9,473.5 406.7,472 407.6,470.5 408.5,468.9 409.4,467.2 410.2,465.5 411.1,463.7 412,461.9 412.9,460.1 413.8,458.3 414.6,456.5 415.5,454.7 416.4,452.9 417.3,451.2 418.1,449.6 419,447.9 419.9,446.4 420.8,445 421.6,443.6 422.5,442.4 423.4,441.3 424.3,440.3 425.2,439.4 426,438.6 426.9,438.1 427.8,437.6 428.7,437.4 429.5,437.4 430.4,437.6 431.3,438 432.2,438.6 433,439.3 433.9,440.3 434.8,441.4 435.7,442.7 436.6,444.2 437.4,445.7 438.3,447.4 439.2,449.1 440.1,450.9 440.9,452.7 441.8,454.5 442.7,456.4 443.6,458.2 444.4,459.9 445.3,461.7 446.2,463.3 447.1,464.9 448,466.5 448.8,467.9 449.7,469.3 450.6,470.5 451.5,471.7 452.3,472.8 453.2,473.8 454.1,474.8 455,475.6 455.8,476.3 456.7,477 457.6,477.6 458.5,478.2 459.4,478.7 460.2,479.1 461.1,479.4 462,479.8 462.9,480 463.7,480.3 464.6,480.5 465.5,480.7 466.4,480.8 467.2,480.9 468.1,481 469,481.1 469.9,481.2 470.8,481.2 471.6,481.3 472.5,481.3 473.4,481.3 474.3,481.3 475.1,481.4 476,481.4 476.9,481.4 477.8,481.4 478.6,481.4 479.5,481.3 480.4,481.3 481.3,481.3 482.2,481.3 483,481.3 483.9,481.3 484.8,481.3 485.7,481.3 486.5,481.2 487.4,481.2 488.3,481.2 489.2,481.2 490,481.2 490.9,481.2 491.8,481.2 493.6,481.1 495.3,481.1 497.1,481 498.8,481 500.6,480.9 502.3,480.8 504.1,480.7 505.8,480.6 507.6,480.5 509.3,480.3 511.1,480.2 512.9,480 514.6,479.9 516.4,479.7 518.1,479.6 519.9,479.4 521.6,479.3 523.4,479.1 525.1,479 526.9,478.8 528.6,478.7 530.4,478.5 532.1,478.4 533.9,478.2 535.7,478.1 537.4,478 539.2,477.8 540.9,477.7 542.7,477.6 544.4,477.5"/>
</g>
<rect x="246.2" y="295.2" width="333.2" height="217" fill="none" stroke="#333" stroke-width="1.2"/>
<path d="M263.8 512.2v-4M281.3 512.2v-2.2M298.9 512.2v-4M316.4 512.2v-2.2M333.9 512.2v-4M351.5 512.2v-2.2M369 512.2v-4M386.6 512.2v-2.2M404.1 512.2v-4M421.6 512.2v-2.2M439.2 512.2v-4M456.7 512.2v-2.2M474.3 512.2v-4M491.8 512.2v-2.2M509.3 512.2v-4M526.9 512.2v-2.2M544.4 512.2v-4M562 512.2v-2.2M246.2 496.8h4M246.2 481.2h2.2M246.2 465.8h4M246.2 450.2h2.2M246.2 434.8h4M246.2 419.2h2.2M246.2 403.8h4M246.2 388.2h2.2M246.2 372.8h4M246.2 357.2h2.2M246.2 341.8h4M246.2 326.2h2.2M246.2 310.8h4" stroke="#333" stroke-width="1.1" fill="none"/>
<g class="sf" font-size="9.1" fill="#333">
<text x="263.8" y="525" text-anchor="middle" textLength="17" lengthAdjust="spacingAndGlyphs">540</text>
<text x="298.9" y="525" text-anchor="middle" textLength="17" lengthAdjust="spacingAndGlyphs">560</text>
<text x="333.9" y="525" text-anchor="middle" textLength="17" lengthAdjust="spacingAndGlyphs">580</text>
<text x="369" y="525" text-anchor="middle" textLength="17" lengthAdjust="spacingAndGlyphs">600</text>
<text x="404.1" y="525" text-anchor="middle" textLength="17" lengthAdjust="spacingAndGlyphs">620</text>
<text x="439.2" y="525" text-anchor="middle" textLength="17" lengthAdjust="spacingAndGlyphs">640</text>
<text x="474.3" y="525" text-anchor="middle" textLength="17" lengthAdjust="spacingAndGlyphs">660</text>
<text x="509.3" y="525" text-anchor="middle" textLength="17" lengthAdjust="spacingAndGlyphs">680</text>
<text x="544.4" y="525" text-anchor="middle" textLength="17" lengthAdjust="spacingAndGlyphs">700</text>
<text x="579.5" y="525" text-anchor="middle" textLength="17" lengthAdjust="spacingAndGlyphs">720</text>
<text x="240.3" y="499.9" text-anchor="end" textLength="5.7" lengthAdjust="spacingAndGlyphs">0</text>
<text x="240.3" y="468.9" text-anchor="end" textLength="17" lengthAdjust="spacingAndGlyphs">200</text>
<text x="240.3" y="437.9" text-anchor="end" textLength="17" lengthAdjust="spacingAndGlyphs">400</text>
<text x="240.3" y="406.9" text-anchor="end" textLength="17" lengthAdjust="spacingAndGlyphs">600</text>
<text x="240.3" y="375.9" text-anchor="end" textLength="17" lengthAdjust="spacingAndGlyphs">800</text>
<text x="240.3" y="344.9" text-anchor="end" textLength="22.7" lengthAdjust="spacingAndGlyphs">1000</text>
<text x="240.3" y="313.9" text-anchor="end" textLength="22.7" lengthAdjust="spacingAndGlyphs">1200</text>
</g>
<text x="411.8" y="539.8" text-anchor="middle" class="mo" font-size="11.5" fill="#333" stroke="#333" stroke-width="0.35" textLength="94.6" lengthAdjust="spacingAndGlyphs">Wavelength(nm)</text>
<g transform="translate(202.6 449) rotate(-90)" class="sf" font-size="10.5" fill="#3a3a3a">
<text x="0" y="0" textLength="65.1" lengthAdjust="spacingAndGlyphs">Fluorescence</text>
<text x="66.7" y="0" textLength="31.9" lengthAdjust="spacingAndGlyphs">(a. u.)</text>
</g>
<text x="199.6" y="544.4" class="ss" font-size="15.5" fill="#1a1a1a" textLength="18.3" lengthAdjust="spacingAndGlyphs">(C)</text>
<rect x="494.6" y="298" width="81.4" height="138.9" fill="#fff" stroke="#505050" stroke-width="1"/>
<g stroke-width="1.5">
<path d="M495.8 304.2H515.3" stroke="#2b2b2b"/>
<path d="M495.8 315.6H515.3" stroke="#d8404e"/>
<path d="M495.8 327.1H515.3" stroke="#2f6bd6"/>
<path d="M495.8 338.5H515.3" stroke="#2e9060"/>
<path d="M495.8 350H515.3" stroke="#a58ac8"/>
<path d="M495.8 361.4H515.3" stroke="#cc9c18"/>
<path d="M495.8 372.9H515.3" stroke="#1ec3d3"/>
<path d="M495.8 384.3H515.3" stroke="#463a48"/>
<path d="M495.8 395.8H515.3" stroke="#7f8a30"/>
<path d="M495.8 407.2H515.3" stroke="#e8682c"/>
<path d="M495.8 418.7H515.3" stroke="#5b9bd5"/>
<path d="M495.8 430.1H515.3" stroke="#6cae28"/>
</g>
<g class="sf" font-size="8.6" fill="#505050">
<text x="519.7" y="307"><tspan textLength="24" lengthAdjust="spacingAndGlyphs">AT+NH</tspan><tspan font-size="5.2" dy="1.8">4</tspan><tspan font-size="5.2" dy="-5">+</tspan></text>
<text x="519.7" y="318.5"><tspan textLength="24" lengthAdjust="spacingAndGlyphs">BT+NH</tspan><tspan font-size="5.2" dy="1.8">4</tspan><tspan font-size="5.2" dy="-5">+</tspan></text>
<text x="519.7" y="329.9"><tspan textLength="24" lengthAdjust="spacingAndGlyphs">OT+NH</tspan><tspan font-size="5.2" dy="1.8">4</tspan><tspan font-size="5.2" dy="-5">+</tspan></text>
<text x="519.7" y="341.4"><tspan textLength="24" lengthAdjust="spacingAndGlyphs">TT+NH</tspan><tspan font-size="5.2" dy="1.8">4</tspan><tspan font-size="5.2" dy="-5">+</tspan></text>
<text x="519.7" y="352.8"><tspan textLength="24" lengthAdjust="spacingAndGlyphs">HT+NH</tspan><tspan font-size="5.2" dy="1.8">4</tspan><tspan font-size="5.2" dy="-5">+</tspan></text>
<text x="519.7" y="364.3"><tspan textLength="43.2" lengthAdjust="spacingAndGlyphs">HT-V15+NH</tspan><tspan font-size="5.2" dy="1.8">4</tspan><tspan font-size="5.2" dy="-5">+</tspan></text>
<text x="519.7" y="375.7"><tspan textLength="43.2" lengthAdjust="spacingAndGlyphs">HT-V18+NH</tspan><tspan font-size="5.2" dy="1.8">4</tspan><tspan font-size="5.2" dy="-5">+</tspan></text>
<text x="519.7" y="387.2"><tspan textLength="33.6" lengthAdjust="spacingAndGlyphs">PW17+NH</tspan><tspan font-size="5.2" dy="1.8">4</tspan><tspan font-size="5.2" dy="-5">+</tspan></text>
<text x="519.7" y="398.6"><tspan textLength="43.2" lengthAdjust="spacingAndGlyphs">PS2. M+NH</tspan><tspan font-size="5.2" dy="1.8">4</tspan><tspan font-size="5.2" dy="-5">+</tspan></text>
<text x="519.7" y="410.1"><tspan textLength="43.2" lengthAdjust="spacingAndGlyphs">PS5. M+NH</tspan><tspan font-size="5.2" dy="1.8">4</tspan><tspan font-size="5.2" dy="-5">+</tspan></text>
<text x="519.7" y="421.5"><tspan textLength="43.2" lengthAdjust="spacingAndGlyphs">T30695+NH</tspan><tspan font-size="5.2" dy="1.8">4</tspan><tspan font-size="5.2" dy="-5">+</tspan></text>
<text x="519.7" y="433"><tspan textLength="48" lengthAdjust="spacingAndGlyphs">AGRO100+NH</tspan><tspan font-size="5.2" dy="1.8">4</tspan><tspan font-size="5.2" dy="-5">+</tspan></text>
</g>
</svg>
</body></html>
